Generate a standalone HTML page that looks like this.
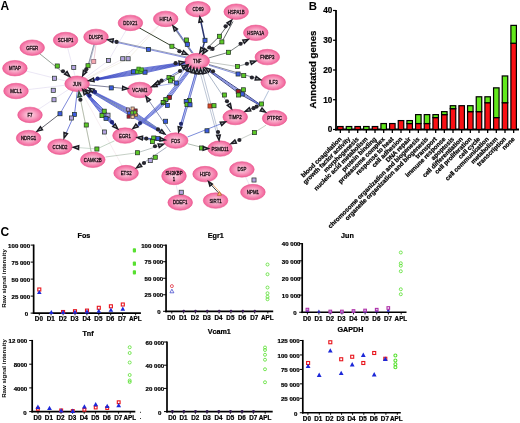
<!DOCTYPE html><html><head><meta charset="utf-8"><title>Figure</title>
<style>html,body{margin:0;padding:0;background:#fff;overflow:hidden}svg{display:block}#bar text,#sc text{stroke:#000;stroke-width:0.22px}</style></head><body>
<svg width="520" height="423" viewBox="0 0 520 423">
<defs><radialGradient id="ng" cx="50%" cy="50%" r="55%"><stop offset="0" stop-color="#fcd8e6"/><stop offset="0.35" stop-color="#f9b0cc"/><stop offset="0.75" stop-color="#f478a8"/><stop offset="1" stop-color="#ee5290"/></radialGradient><filter id="sb" x="0" y="0" width="300" height="215" filterUnits="userSpaceOnUse"><feGaussianBlur stdDeviation="0.38"/></filter></defs>
<rect width="520" height="423" fill="#fff"/>
<g id="net" filter="url(#sb)">
<line x1="65.60" y1="40.00" x2="77.10" y2="83.80" stroke="#ddd6ee" stroke-width="0.6"/>
<line x1="14.90" y1="68.20" x2="77.10" y2="83.80" stroke="#ddd6ee" stroke-width="0.6"/>
<line x1="16.00" y1="91.00" x2="77.10" y2="83.80" stroke="#ddd6ee" stroke-width="0.6"/>
<line x1="30.00" y1="114.90" x2="77.10" y2="83.80" stroke="#ddd6ee" stroke-width="0.6"/>
<polyline points="77.10,83.80 108.50,60.50 130.40,22.90" fill="none" stroke="#ddd6ee" stroke-width="0.6"/>
<polyline points="77.10,83.80 122.75,58.75 165.70,18.90" fill="none" stroke="#eadfe8" stroke-width="0.6"/>
<polyline points="77.10,83.80 128.10,58.75 165.70,18.90" fill="none" stroke="#ece8d8" stroke-width="0.6"/>
<line x1="77.10" y1="83.80" x2="126.10" y2="173.10" stroke="#f2e2e8" stroke-width="0.6"/>
<line x1="77.10" y1="83.80" x2="92.80" y2="159.80" stroke="#e8e0c8" stroke-width="0.5"/>
<line x1="174.00" y1="176.00" x2="180.20" y2="202.50" stroke="#ddd6ee" stroke-width="0.6"/>
<line x1="241.90" y1="169.40" x2="252.90" y2="192.10" stroke="#ddd6ee" stroke-width="0.6"/>
<line x1="32.20" y1="47.70" x2="77.10" y2="83.80" stroke="#68786a" stroke-width="0.7"/>
<polyline points="96.60,40.00 93.75,61.50 84.60,74.00" fill="none" stroke="#dcaaba" stroke-width="0.6"/>
<polyline points="95.20,40.00 88.00,65.75 84.00,74.00" fill="none" stroke="#5c6680" stroke-width="0.7"/>
<polyline points="96.00,40.00 89.60,63.00 84.40,74.00" fill="none" stroke="#8890b0" stroke-width="0.6"/>
<line x1="77.10" y1="83.80" x2="60.00" y2="113.75" stroke="#4858c8" stroke-width="0.7"/>
<line x1="60.00" y1="113.75" x2="28.60" y2="138.10" stroke="#40404c" stroke-width="0.8"/>
<polyline points="77.40,90.00 74.50,114.40 65.00,135.60" fill="none" stroke="#5060d0" stroke-width="0.8"/>
<line x1="92.80" y1="159.80" x2="80.00" y2="97.00" stroke="#9aa89a" stroke-width="0.7"/>
<line x1="77.10" y1="83.80" x2="139.80" y2="90.00" stroke="#4a4a70" stroke-width="0.7"/>
<polygon points="90.05,80.89 138.60,74.84 186.16,63.68 185.84,61.92 137.40,68.36 89.95,80.31" fill="#aab4f0" fill-opacity="0.45"/>
<polyline points="89.95,80.31 137.51,68.95 185.84,61.92" fill="none" stroke="#3040c0" stroke-width="0.65"/>
<polyline points="89.97,80.42 137.70,70.01 185.90,62.27" fill="none" stroke="#3040c0" stroke-width="0.65"/>
<polyline points="89.99,80.54 137.90,71.07 185.97,62.62" fill="none" stroke="#3040c0" stroke-width="0.65"/>
<polyline points="90.01,80.66 138.10,72.13 186.03,62.98" fill="none" stroke="#3040c0" stroke-width="0.65"/>
<polyline points="90.03,80.78 138.30,73.19 186.10,63.33" fill="none" stroke="#3040c0" stroke-width="0.65"/>
<polyline points="90.05,80.89 138.49,74.25 186.16,63.68" fill="none" stroke="#3040c0" stroke-width="0.65"/>
<polygon points="88.60,90.69 129.34,115.85 163.60,134.19 164.40,132.81 132.66,110.15 89.40,89.31" fill="#aab4f0" fill-opacity="0.45"/>
<polyline points="89.40,89.31 132.35,110.66 164.40,132.81" fill="none" stroke="#3444c4" stroke-width="0.65"/>
<polyline points="89.24,89.58 131.81,111.60 164.24,133.08" fill="none" stroke="#3444c4" stroke-width="0.65"/>
<polyline points="89.08,89.86 131.27,112.53 164.08,133.36" fill="none" stroke="#3444c4" stroke-width="0.65"/>
<polyline points="88.92,90.14 130.73,113.47 163.92,133.64" fill="none" stroke="#3444c4" stroke-width="0.65"/>
<polyline points="88.76,90.42 130.19,114.40 163.76,133.92" fill="none" stroke="#3444c4" stroke-width="0.65"/>
<polyline points="88.60,90.69 129.65,115.34 163.60,134.19" fill="none" stroke="#3444c4" stroke-width="0.65"/>
<line x1="90.00" y1="91.00" x2="163.00" y2="131.00" stroke="#88a0a0" stroke-width="0.7"/>
<polygon points="84.40,92.53 102.14,115.97 115.77,127.70 116.23,127.30 106.66,112.03 85.60,91.47" fill="#aab4f0" fill-opacity="0.55"/>
<polyline points="85.60,91.47 106.21,112.42 116.23,127.30" fill="none" stroke="#3444c8" stroke-width="0.75"/>
<polyline points="85.30,91.74 105.30,113.21 116.11,127.40" fill="none" stroke="#3444c8" stroke-width="0.75"/>
<polyline points="85.00,92.00 104.40,114.00 116.00,127.50" fill="none" stroke="#3444c8" stroke-width="0.75"/>
<polyline points="84.70,92.26 103.50,114.79 115.89,127.60" fill="none" stroke="#3444c8" stroke-width="0.75"/>
<polyline points="84.40,92.53 102.59,115.58 115.77,127.70" fill="none" stroke="#3444c8" stroke-width="0.75"/>
<line x1="110.00" y1="40.00" x2="187.00" y2="57.00" stroke="#8088a0" stroke-width="0.8"/>
<line x1="110.00" y1="40.90" x2="187.00" y2="58.00" stroke="#5060d0" stroke-width="0.7"/>
<line x1="130.40" y1="22.90" x2="186.00" y2="54.00" stroke="#36422e" stroke-width="1.0"/>
<line x1="174.00" y1="27.40" x2="192.00" y2="53.00" stroke="#7c8498" stroke-width="1.3"/>
<line x1="175.20" y1="27.60" x2="193.20" y2="53.20" stroke="#4858c8" stroke-width="0.8"/>
<polyline points="199.90,17.00 204.90,40.30 202.00,51.00" fill="none" stroke="#2c3670" stroke-width="1.5"/>
<polyline points="231.00,20.50 219.40,36.30 206.50,49.00" fill="none" stroke="#3a4242" stroke-width="0.8"/>
<polyline points="233.00,21.50 221.90,41.90 210.00,50.50" fill="none" stroke="#3a4242" stroke-width="0.8"/>
<polyline points="208.50,58.00 228.50,52.30 247.00,39.80" fill="none" stroke="#5a6262" stroke-width="0.8"/>
<line x1="209.50" y1="62.30" x2="237.50" y2="66.50" stroke="#98a098" stroke-width="0.6"/>
<line x1="237.50" y1="66.50" x2="254.00" y2="61.60" stroke="#606868" stroke-width="0.7"/>
<line x1="209.00" y1="64.50" x2="259.50" y2="79.20" stroke="#50586a" stroke-width="0.7"/>
<line x1="209.00" y1="65.30" x2="238.00" y2="74.40" stroke="#5868d0" stroke-width="0.7"/>
<polygon points="206.11,69.08 239.36,94.42 260.78,105.83 261.22,105.17 241.84,90.78 206.89,67.92" fill="#dde2f8" fill-opacity="0.5"/>
<polyline points="206.89,67.92 241.50,91.28 261.22,105.17" fill="none" stroke="#1c2468" stroke-width="0.8"/>
<polyline points="206.11,69.08 239.70,93.92 260.78,105.83" fill="none" stroke="#1c2468" stroke-width="0.8"/>
<polyline points="206.61,68.33 240.88,92.19 261.06,105.42" fill="none" stroke="#4454d0" stroke-width="0.6"/>
<polyline points="206.39,68.67 240.32,93.01 260.94,105.58" fill="none" stroke="#4454d0" stroke-width="0.6"/>
<line x1="268.75" y1="90.60" x2="262.00" y2="103.75" stroke="#90a8c8" stroke-width="0.7"/>
<line x1="247.00" y1="110.60" x2="262.00" y2="104.50" stroke="#404858" stroke-width="0.8"/>
<line x1="206.50" y1="71.50" x2="230.50" y2="107.30" stroke="#8898b0" stroke-width="0.7"/>
<line x1="199.30" y1="69.50" x2="217.60" y2="137.00" stroke="#90a0b8" stroke-width="0.6"/>
<line x1="201.80" y1="69.50" x2="219.40" y2="137.00" stroke="#90a0b8" stroke-width="0.6"/>
<line x1="197.40" y1="69.00" x2="179.70" y2="130.60" stroke="#c4ccf4" stroke-width="2.2"/>
<line x1="196.60" y1="69.00" x2="178.90" y2="130.50" stroke="#5464d0" stroke-width="0.9"/>
<line x1="198.30" y1="69.00" x2="180.50" y2="130.80" stroke="#6c78c8" stroke-width="0.9"/>
<polygon points="189.44,67.42 163.23,99.98 135.84,126.39 137.16,127.61 166.77,103.22 191.36,69.18" fill="#c4ccf4" fill-opacity="0.6"/>
<polyline points="191.36,69.18 166.33,102.82 137.16,127.61" fill="none" stroke="#5060d0" stroke-width="0.8"/>
<polyline points="190.72,68.59 165.44,102.01 136.72,127.20" fill="none" stroke="#5060d0" stroke-width="0.8"/>
<polyline points="190.08,68.01 164.56,101.19 136.28,126.80" fill="none" stroke="#5060d0" stroke-width="0.8"/>
<polyline points="189.44,67.42 163.67,100.38 135.84,126.39" fill="none" stroke="#5060d0" stroke-width="0.8"/>
<line x1="186.00" y1="67.00" x2="153.50" y2="86.00" stroke="#5060c8" stroke-width="0.8"/>
<line x1="187.00" y1="68.20" x2="154.00" y2="87.00" stroke="#50586a" stroke-width="0.7"/>
<line x1="186.00" y1="66.00" x2="176.25" y2="83.00" stroke="#7080d8" stroke-width="0.6"/>
<line x1="176.25" y1="83.00" x2="154.00" y2="86.50" stroke="#7080d8" stroke-width="0.6"/>
<line x1="170.50" y1="132.00" x2="146.80" y2="97.60" stroke="#5a6490" stroke-width="0.7"/>
<line x1="187.50" y1="137.00" x2="224.00" y2="122.60" stroke="#5a70d0" stroke-width="0.8"/>
<line x1="187.50" y1="143.70" x2="207.00" y2="148.70" stroke="#90a090" stroke-width="0.7"/>
<line x1="266.00" y1="125.20" x2="254.40" y2="132.50" stroke="#a0b8a0" stroke-width="0.6"/>
<line x1="254.40" y1="132.50" x2="232.80" y2="142.80" stroke="#a8b0a8" stroke-width="0.6"/>
<line x1="166.50" y1="147.30" x2="137.50" y2="167.00" stroke="#8088a0" stroke-width="0.7"/>
<line x1="105.50" y1="157.00" x2="137.50" y2="152.75" stroke="#a0b0a0" stroke-width="0.6"/>
<line x1="137.50" y1="152.75" x2="162.00" y2="144.80" stroke="#90a0a0" stroke-width="0.6"/>
<line x1="138.00" y1="137.60" x2="163.00" y2="139.40" stroke="#4050c0" stroke-width="1.0"/>
<line x1="138.00" y1="138.60" x2="163.00" y2="141.00" stroke="#5a6a8a" stroke-width="0.8"/>
<line x1="114.50" y1="140.80" x2="96.90" y2="149.00" stroke="#9cb8a0" stroke-width="0.6"/>
<line x1="96.90" y1="149.00" x2="73.50" y2="147.20" stroke="#a8c0b0" stroke-width="0.6"/>
<line x1="209.30" y1="182.80" x2="219.60" y2="194.00" stroke="#2a2a2a" stroke-width="0.9"/>
<line x1="210.80" y1="182.40" x2="221.00" y2="193.40" stroke="#e89040" stroke-width="0.7"/>
<ellipse cx="32.2" cy="47.7" rx="12.3" ry="7.75" fill="url(#ng)" stroke="#ea5a8e" stroke-width="0.6"/>
<text transform="translate(32.2,49.6) scale(0.84,1)" text-anchor="middle" font-size="5.2" font-family="Liberation Sans, Arial, sans-serif" fill="#1c0c14" stroke="#1c0c14" stroke-width="0.3">GFER</text>
<ellipse cx="65.6" cy="40" rx="12.3" ry="7.75" fill="url(#ng)" stroke="#ea5a8e" stroke-width="0.6"/>
<text transform="translate(65.6,41.9) scale(0.84,1)" text-anchor="middle" font-size="5.2" font-family="Liberation Sans, Arial, sans-serif" fill="#1c0c14" stroke="#1c0c14" stroke-width="0.3">SCHIP1</text>
<ellipse cx="96" cy="36.9" rx="12.3" ry="7.75" fill="url(#ng)" stroke="#ea5a8e" stroke-width="0.6"/>
<text transform="translate(96,38.8) scale(0.84,1)" text-anchor="middle" font-size="5.2" font-family="Liberation Sans, Arial, sans-serif" fill="#1c0c14" stroke="#1c0c14" stroke-width="0.3">DUSP1</text>
<ellipse cx="130.4" cy="22.9" rx="12.3" ry="7.75" fill="url(#ng)" stroke="#ea5a8e" stroke-width="0.6"/>
<text transform="translate(130.4,24.799999999999997) scale(0.84,1)" text-anchor="middle" font-size="5.2" font-family="Liberation Sans, Arial, sans-serif" fill="#1c0c14" stroke="#1c0c14" stroke-width="0.3">DDX21</text>
<ellipse cx="165.7" cy="18.9" rx="12.3" ry="7.75" fill="url(#ng)" stroke="#ea5a8e" stroke-width="0.6"/>
<text transform="translate(165.7,20.799999999999997) scale(0.84,1)" text-anchor="middle" font-size="5.2" font-family="Liberation Sans, Arial, sans-serif" fill="#1c0c14" stroke="#1c0c14" stroke-width="0.3">HIF1A</text>
<ellipse cx="198" cy="9.2" rx="12.3" ry="7.75" fill="url(#ng)" stroke="#ea5a8e" stroke-width="0.6"/>
<text transform="translate(198,11.1) scale(0.84,1)" text-anchor="middle" font-size="5.2" font-family="Liberation Sans, Arial, sans-serif" fill="#1c0c14" stroke="#1c0c14" stroke-width="0.3">CD69</text>
<ellipse cx="236.2" cy="11.7" rx="12.3" ry="7.75" fill="url(#ng)" stroke="#ea5a8e" stroke-width="0.6"/>
<text transform="translate(236.2,13.6) scale(0.84,1)" text-anchor="middle" font-size="5.2" font-family="Liberation Sans, Arial, sans-serif" fill="#1c0c14" stroke="#1c0c14" stroke-width="0.3">HSPA1B</text>
<ellipse cx="255.8" cy="32.8" rx="12.3" ry="7.75" fill="url(#ng)" stroke="#ea5a8e" stroke-width="0.6"/>
<text transform="translate(255.8,34.699999999999996) scale(0.84,1)" text-anchor="middle" font-size="5.2" font-family="Liberation Sans, Arial, sans-serif" fill="#1c0c14" stroke="#1c0c14" stroke-width="0.3">HSPA1A</text>
<ellipse cx="267.3" cy="57.1" rx="12.3" ry="7.75" fill="url(#ng)" stroke="#ea5a8e" stroke-width="0.6"/>
<text transform="translate(267.3,59.0) scale(0.84,1)" text-anchor="middle" font-size="5.2" font-family="Liberation Sans, Arial, sans-serif" fill="#1c0c14" stroke="#1c0c14" stroke-width="0.3">FNBP3</text>
<ellipse cx="273.2" cy="82.3" rx="12.3" ry="7.75" fill="url(#ng)" stroke="#ea5a8e" stroke-width="0.6"/>
<text transform="translate(273.2,84.2) scale(0.84,1)" text-anchor="middle" font-size="5.2" font-family="Liberation Sans, Arial, sans-serif" fill="#1c0c14" stroke="#1c0c14" stroke-width="0.3">ILF3</text>
<ellipse cx="274.6" cy="118.2" rx="12.3" ry="7.75" fill="url(#ng)" stroke="#ea5a8e" stroke-width="0.6"/>
<text transform="translate(274.6,120.10000000000001) scale(0.84,1)" text-anchor="middle" font-size="5.2" font-family="Liberation Sans, Arial, sans-serif" fill="#1c0c14" stroke="#1c0c14" stroke-width="0.3">PTPRC</text>
<ellipse cx="235.2" cy="117" rx="12.3" ry="7.75" fill="url(#ng)" stroke="#ea5a8e" stroke-width="0.6"/>
<text transform="translate(235.2,118.9) scale(0.84,1)" text-anchor="middle" font-size="5.2" font-family="Liberation Sans, Arial, sans-serif" fill="#1c0c14" stroke="#1c0c14" stroke-width="0.3">TIMP2</text>
<ellipse cx="220" cy="148.6" rx="12.3" ry="7.75" fill="url(#ng)" stroke="#ea5a8e" stroke-width="0.6"/>
<text transform="translate(220,150.5) scale(0.84,1)" text-anchor="middle" font-size="5.2" font-family="Liberation Sans, Arial, sans-serif" fill="#1c0c14" stroke="#1c0c14" stroke-width="0.3">PSMD11</text>
<ellipse cx="175.7" cy="140.6" rx="12.3" ry="7.75" fill="url(#ng)" stroke="#ea5a8e" stroke-width="0.6"/>
<text transform="translate(175.7,142.5) scale(0.84,1)" text-anchor="middle" font-size="5.2" font-family="Liberation Sans, Arial, sans-serif" fill="#1c0c14" stroke="#1c0c14" stroke-width="0.3">FOS</text>
<ellipse cx="125" cy="135.6" rx="12.3" ry="7.75" fill="url(#ng)" stroke="#ea5a8e" stroke-width="0.6"/>
<text transform="translate(125,137.5) scale(0.84,1)" text-anchor="middle" font-size="5.2" font-family="Liberation Sans, Arial, sans-serif" fill="#1c0c14" stroke="#1c0c14" stroke-width="0.3">EGR1</text>
<ellipse cx="139.8" cy="90" rx="12.3" ry="7.75" fill="url(#ng)" stroke="#ea5a8e" stroke-width="0.6"/>
<text transform="translate(139.8,91.9) scale(0.84,1)" text-anchor="middle" font-size="5.2" font-family="Liberation Sans, Arial, sans-serif" fill="#1c0c14" stroke="#1c0c14" stroke-width="0.3">VCAM1</text>
<ellipse cx="197.2" cy="61.1" rx="12.3" ry="7.75" fill="url(#ng)" stroke="#ea5a8e" stroke-width="0.6"/>
<text transform="translate(197.2,63.0) scale(0.84,1)" text-anchor="middle" font-size="5.2" font-family="Liberation Sans, Arial, sans-serif" fill="#1c0c14" stroke="#1c0c14" stroke-width="0.3">TNF</text>
<ellipse cx="77.1" cy="83.8" rx="12.3" ry="7.75" fill="url(#ng)" stroke="#ea5a8e" stroke-width="0.6"/>
<text transform="translate(77.1,85.7) scale(0.84,1)" text-anchor="middle" font-size="5.2" font-family="Liberation Sans, Arial, sans-serif" fill="#1c0c14" stroke="#1c0c14" stroke-width="0.3">JUN</text>
<ellipse cx="14.9" cy="68.2" rx="12.3" ry="7.75" fill="url(#ng)" stroke="#ea5a8e" stroke-width="0.6"/>
<text transform="translate(14.9,70.10000000000001) scale(0.84,1)" text-anchor="middle" font-size="5.2" font-family="Liberation Sans, Arial, sans-serif" fill="#1c0c14" stroke="#1c0c14" stroke-width="0.3">MTAP</text>
<ellipse cx="16" cy="91" rx="12.3" ry="7.75" fill="url(#ng)" stroke="#ea5a8e" stroke-width="0.6"/>
<text transform="translate(16,92.9) scale(0.84,1)" text-anchor="middle" font-size="5.2" font-family="Liberation Sans, Arial, sans-serif" fill="#1c0c14" stroke="#1c0c14" stroke-width="0.3">MCL1</text>
<ellipse cx="30" cy="114.9" rx="12.3" ry="7.75" fill="url(#ng)" stroke="#ea5a8e" stroke-width="0.6"/>
<text transform="translate(30,116.80000000000001) scale(0.84,1)" text-anchor="middle" font-size="5.2" font-family="Liberation Sans, Arial, sans-serif" fill="#1c0c14" stroke="#1c0c14" stroke-width="0.3">F7</text>
<ellipse cx="28.6" cy="138.1" rx="12.3" ry="7.75" fill="url(#ng)" stroke="#ea5a8e" stroke-width="0.6"/>
<text transform="translate(28.6,140.0) scale(0.84,1)" text-anchor="middle" font-size="5.2" font-family="Liberation Sans, Arial, sans-serif" fill="#1c0c14" stroke="#1c0c14" stroke-width="0.3">NDRG1</text>
<ellipse cx="60" cy="146.75" rx="12.3" ry="7.75" fill="url(#ng)" stroke="#ea5a8e" stroke-width="0.6"/>
<text transform="translate(60,148.65) scale(0.84,1)" text-anchor="middle" font-size="5.2" font-family="Liberation Sans, Arial, sans-serif" fill="#1c0c14" stroke="#1c0c14" stroke-width="0.3">CCND2</text>
<ellipse cx="92.8" cy="159.8" rx="12.3" ry="7.75" fill="url(#ng)" stroke="#ea5a8e" stroke-width="0.6"/>
<text transform="translate(92.8,161.70000000000002) scale(0.84,1)" text-anchor="middle" font-size="5.2" font-family="Liberation Sans, Arial, sans-serif" fill="#1c0c14" stroke="#1c0c14" stroke-width="0.3">CAMK2B</text>
<ellipse cx="126.1" cy="173.1" rx="12.3" ry="7.75" fill="url(#ng)" stroke="#ea5a8e" stroke-width="0.6"/>
<text transform="translate(126.1,175.0) scale(0.84,1)" text-anchor="middle" font-size="5.2" font-family="Liberation Sans, Arial, sans-serif" fill="#1c0c14" stroke="#1c0c14" stroke-width="0.3">ETS2</text>
<ellipse cx="174" cy="176" rx="12.3" ry="8.7" fill="url(#ng)" stroke="#ea5a8e" stroke-width="0.6"/>
<text transform="translate(174,175.2) scale(0.84,1)" text-anchor="middle" font-size="5.2" font-family="Liberation Sans, Arial, sans-serif" fill="#1c0c14" stroke="#1c0c14" stroke-width="0.3">SH3KBP</text>
<text transform="translate(174,180.6) scale(0.84,1)" text-anchor="middle" font-size="5.2" font-family="Liberation Sans, Arial, sans-serif" fill="#1c0c14" stroke="#1c0c14" stroke-width="0.3">1</text>
<ellipse cx="205.1" cy="174.1" rx="12.3" ry="7.75" fill="url(#ng)" stroke="#ea5a8e" stroke-width="0.6"/>
<text transform="translate(205.1,176.0) scale(0.84,1)" text-anchor="middle" font-size="5.2" font-family="Liberation Sans, Arial, sans-serif" fill="#1c0c14" stroke="#1c0c14" stroke-width="0.3">H1F0</text>
<ellipse cx="241.9" cy="169.4" rx="12.3" ry="7.75" fill="url(#ng)" stroke="#ea5a8e" stroke-width="0.6"/>
<text transform="translate(241.9,171.3) scale(0.84,1)" text-anchor="middle" font-size="5.2" font-family="Liberation Sans, Arial, sans-serif" fill="#1c0c14" stroke="#1c0c14" stroke-width="0.3">DSP</text>
<ellipse cx="252.9" cy="192.1" rx="12.3" ry="7.75" fill="url(#ng)" stroke="#ea5a8e" stroke-width="0.6"/>
<text transform="translate(252.9,194.0) scale(0.84,1)" text-anchor="middle" font-size="5.2" font-family="Liberation Sans, Arial, sans-serif" fill="#1c0c14" stroke="#1c0c14" stroke-width="0.3">NPM1</text>
<ellipse cx="180.2" cy="202.5" rx="12.3" ry="7.75" fill="url(#ng)" stroke="#ea5a8e" stroke-width="0.6"/>
<text transform="translate(180.2,204.4) scale(0.84,1)" text-anchor="middle" font-size="5.2" font-family="Liberation Sans, Arial, sans-serif" fill="#1c0c14" stroke="#1c0c14" stroke-width="0.3">DDEF1</text>
<ellipse cx="215.6" cy="200.6" rx="12.3" ry="7.75" fill="url(#ng)" stroke="#ea5a8e" stroke-width="0.6"/>
<text transform="translate(215.6,202.5) scale(0.84,1)" text-anchor="middle" font-size="5.2" font-family="Liberation Sans, Arial, sans-serif" fill="#1c0c14" stroke="#1c0c14" stroke-width="0.3">SIRT1</text>
<rect x="71.70" y="65.45" width="4.1" height="4.1" fill="#b4a4e0" stroke="#223022" stroke-width="0.7"/>
<rect x="52.45" y="76.20" width="4.1" height="4.1" fill="#b4a4e0" stroke="#223022" stroke-width="0.7"/>
<rect x="51.20" y="88.25" width="4.1" height="4.1" fill="#b4a4e0" stroke="#223022" stroke-width="0.7"/>
<rect x="51.95" y="97.70" width="4.1" height="4.1" fill="#b4a4e0" stroke="#223022" stroke-width="0.7"/>
<rect x="106.45" y="58.45" width="4.1" height="4.1" fill="#b4a4e0" stroke="#223022" stroke-width="0.7"/>
<rect x="120.70" y="56.70" width="4.1" height="4.1" fill="#b4a4e0" stroke="#223022" stroke-width="0.7"/>
<rect x="126.05" y="56.70" width="4.1" height="4.1" fill="#b4a4e0" stroke="#223022" stroke-width="0.7"/>
<rect x="102.35" y="129.95" width="4.1" height="4.1" fill="#b4a4e0" stroke="#223022" stroke-width="0.7"/>
<rect x="179.20" y="190.20" width="4.1" height="4.1" fill="#b4a4e0" stroke="#223022" stroke-width="0.7"/>
<rect x="251.95" y="177.95" width="4.1" height="4.1" fill="#b4a4e0" stroke="#223022" stroke-width="0.7"/>
<rect x="55.20" y="63.95" width="4.1" height="4.1" fill="#5cc828" stroke="#223022" stroke-width="0.7"/>
<circle cx="63.00" cy="71.25" r="2.1" fill="#26262e"/>
<polygon points="69.65,76.35 64.60,74.27 67.09,71.53" fill="#a4acb0" stroke="#1a1a22" stroke-width="1.4" stroke-linejoin="miter"/>
<rect x="91.70" y="59.45" width="4.1" height="4.1" fill="#f4a8b0" stroke="#806070" stroke-width="0.7"/>
<rect x="85.95" y="63.70" width="4.1" height="4.1" fill="#5cc828" stroke="#223022" stroke-width="0.7"/>
<circle cx="86.25" cy="69.30" r="2.1" fill="#26262e"/>
<polygon points="82.67,75.78 83.38,70.37 86.67,72.06" fill="#a4acb0" stroke="#1a1a22" stroke-width="1.4" stroke-linejoin="miter"/>
<rect x="57.95" y="111.70" width="4.1" height="4.1" fill="#3c5ce0" stroke="#223022" stroke-width="0.7"/>
<polygon points="37.19,131.21 40.43,126.82 42.48,129.90" fill="#a4acb0" stroke="#1a1a22" stroke-width="1.4" stroke-linejoin="miter"/>
<rect x="72.35" y="112.35" width="4.1" height="4.1" fill="#3c5ce0" stroke="#223022" stroke-width="0.7"/>
<rect x="69.45" y="115.95" width="4.1" height="4.1" fill="#b4a4e0" stroke="#223022" stroke-width="0.7"/>
<polygon points="64.05,137.94 63.98,132.49 67.48,133.69" fill="#a4acb0" stroke="#1a1a22" stroke-width="1.4" stroke-linejoin="miter"/>
<rect x="84.20" y="122.95" width="4.1" height="4.1" fill="#5cc828" stroke="#223022" stroke-width="0.7"/>
<circle cx="80.40" cy="99.75" r="2.1" fill="#26262e"/>
<polygon points="79.01,91.73 81.53,96.56 77.87,97.06" fill="#7ab89a" stroke="#2a4a3a" stroke-width="1.4" stroke-linejoin="miter"/>
<rect x="109.20" y="85.85" width="4.1" height="4.1" fill="#3c5ce0" stroke="#223022" stroke-width="0.7"/>
<polygon points="127.69,88.59 122.45,90.10 122.69,86.41" fill="#a4acb0" stroke="#1a1a22" stroke-width="1.4" stroke-linejoin="miter"/>
<rect x="131.45" y="69.75" width="4.1" height="4.1" fill="#3c5ce0" stroke="#223022" stroke-width="0.7"/>
<rect x="142.95" y="70.15" width="4.1" height="4.1" fill="#3c5ce0" stroke="#223022" stroke-width="0.7"/>
<rect x="135.50" y="69.90" width="3.4" height="3.4" fill="#5cc828" stroke="#2a6a1a" stroke-width="0.7"/>
<rect x="138.90" y="70.10" width="3.4" height="3.4" fill="#5cc828" stroke="#2a6a1a" stroke-width="0.7"/>
<rect x="136.90" y="67.10" width="3.4" height="3.4" fill="#5cc828" stroke="#2a6a1a" stroke-width="0.7"/>
<rect x="139.90" y="67.90" width="3.4" height="3.4" fill="#5cc828" stroke="#2a6a1a" stroke-width="0.7"/>
<circle cx="97.60" cy="78.60" r="2.1" fill="#20287a"/>
<polygon points="88.75,80.71 93.47,77.99 94.12,81.63" fill="#a4acb0" stroke="#1a1a22" stroke-width="1.4" stroke-linejoin="miter"/>
<circle cx="175.60" cy="63.20" r="2.1" fill="#26262e"/>
<polygon points="184.25,62.09 179.53,64.81 178.88,61.17" fill="#a4acb0" stroke="#1a1a22" stroke-width="1.4" stroke-linejoin="miter"/>
<polygon points="187.15,65.01 183.52,69.09 181.75,65.85" fill="#a4acb0" stroke="#1a1a22" stroke-width="1.4" stroke-linejoin="miter"/>
<rect x="126.40" y="107.90" width="3.2" height="3.2" fill="#b4a4e0" stroke="#4a3a3a" stroke-width="0.7"/>
<rect x="131.00" y="107.00" width="3.2" height="3.2" fill="#f4c8a0" stroke="#4a3a3a" stroke-width="0.7"/>
<rect x="134.00" y="108.90" width="3.2" height="3.2" fill="#a01828" stroke="#4a3a3a" stroke-width="0.7"/>
<rect x="127.40" y="111.40" width="3.2" height="3.2" fill="#3c5ce0" stroke="#4a3a3a" stroke-width="0.7"/>
<rect x="130.80" y="111.00" width="3.2" height="3.2" fill="#5cc828" stroke="#4a3a3a" stroke-width="0.7"/>
<rect x="134.40" y="113.00" width="3.2" height="3.2" fill="#f0a050" stroke="#4a3a3a" stroke-width="0.7"/>
<rect x="127.00" y="115.00" width="3.2" height="3.2" fill="#a01828" stroke="#4a3a3a" stroke-width="0.7"/>
<rect x="131.00" y="115.20" width="3.2" height="3.2" fill="#f4c8a0" stroke="#4a3a3a" stroke-width="0.7"/>
<rect x="133.40" y="110.80" width="3.2" height="3.2" fill="#5cc828" stroke="#4a3a3a" stroke-width="0.7"/>
<polygon points="88.90,88.12 94.26,89.14 92.38,92.33" fill="#a4acb0" stroke="#1a1a22" stroke-width="1.4" stroke-linejoin="miter"/>
<polygon points="85.31,89.62 90.50,91.31 88.23,94.23" fill="#a4acb0" stroke="#1a1a22" stroke-width="1.4" stroke-linejoin="miter"/>
<polygon points="82.73,89.63 87.20,92.76 84.18,94.89" fill="#a4acb0" stroke="#1a1a22" stroke-width="1.4" stroke-linejoin="miter"/>
<circle cx="95.00" cy="91.90" r="2.1" fill="#20287a"/>
<circle cx="89.60" cy="95.60" r="2.1" fill="#20287a"/>
<circle cx="158.00" cy="129.40" r="2.1" fill="#26262e"/>
<polygon points="165.00,134.03 159.71,132.67 161.80,129.61" fill="#a4acb0" stroke="#1a1a22" stroke-width="1.4" stroke-linejoin="miter"/>
<rect x="102.15" y="109.15" width="4.1" height="4.1" fill="#5cc828" stroke="#223022" stroke-width="0.7"/>
<rect x="99.95" y="113.55" width="4.1" height="4.1" fill="#5cc828" stroke="#223022" stroke-width="0.7"/>
<rect x="105.95" y="113.15" width="4.1" height="4.1" fill="#b4a4e0" stroke="#223022" stroke-width="0.7"/>
<rect x="103.95" y="116.35" width="4.1" height="4.1" fill="#3c5ce0" stroke="#223022" stroke-width="0.7"/>
<circle cx="112.00" cy="122.20" r="2.1" fill="#20287a"/>
<polygon points="117.71,128.79 112.71,126.62 115.24,123.92" fill="#a4acb0" stroke="#1a1a22" stroke-width="1.4" stroke-linejoin="miter"/>
<rect x="146.45" y="47.35" width="4.1" height="4.1" fill="#3c5ce0" stroke="#223022" stroke-width="0.7"/>
<circle cx="116.60" cy="41.90" r="2.1" fill="#26262e"/>
<polygon points="107.95,39.77 113.34,38.89 112.65,42.53" fill="#a4acb0" stroke="#1a1a22" stroke-width="1.4" stroke-linejoin="miter"/>
<rect x="169.85" y="44.20" width="4.1" height="4.1" fill="#5cc828" stroke="#223022" stroke-width="0.7"/>
<circle cx="179.40" cy="51.25" r="2.1" fill="#26262e"/>
<polygon points="187.45,54.47 182.01,54.09 183.51,50.71" fill="#a4acb0" stroke="#1a1a22" stroke-width="1.4" stroke-linejoin="miter"/>
<rect x="184.45" y="37.95" width="4.1" height="4.1" fill="#5cc828" stroke="#223022" stroke-width="0.7"/>
<rect x="185.25" y="42.35" width="4.1" height="4.1" fill="#3c5ce0" stroke="#223022" stroke-width="0.7"/>
<polygon points="172.93,25.93 177.40,29.06 174.37,31.19" fill="#a4acb0" stroke="#1a1a22" stroke-width="1.4" stroke-linejoin="miter"/>
<rect x="202.95" y="38.25" width="4.1" height="4.1" fill="#3c5ce0" stroke="#223022" stroke-width="0.7"/>
<polygon points="199.82,16.94 202.49,21.70 198.84,22.31" fill="#a4acb0" stroke="#1a1a22" stroke-width="1.4" stroke-linejoin="miter"/>
<polygon points="231.70,20.11 229.74,25.20 226.94,22.78" fill="#a4acb0" stroke="#1a1a22" stroke-width="1.4" stroke-linejoin="miter"/>
<circle cx="225.60" cy="26.30" r="2.1" fill="#26262e"/>
<rect x="217.35" y="34.25" width="4.1" height="4.1" fill="#5cc828" stroke="#223022" stroke-width="0.7"/>
<rect x="219.85" y="39.85" width="4.1" height="4.1" fill="#5cc828" stroke="#223022" stroke-width="0.7"/>
<circle cx="209.40" cy="47.50" r="2.1" fill="#26262e"/>
<circle cx="212.50" cy="48.90" r="2.1" fill="#26262e"/>
<polygon points="199.80,52.68 200.87,47.33 204.04,49.25" fill="#a4acb0" stroke="#1a1a22" stroke-width="1.4" stroke-linejoin="miter"/>
<polygon points="202.90,53.75 204.41,48.51 207.41,50.67" fill="#a4acb0" stroke="#1a1a22" stroke-width="1.4" stroke-linejoin="miter"/>
<rect x="226.45" y="50.25" width="4.1" height="4.1" fill="#5cc828" stroke="#223022" stroke-width="0.7"/>
<circle cx="240.60" cy="43.75" r="2.1" fill="#26262e"/>
<polygon points="248.22,39.45 244.38,43.33 242.79,39.99" fill="#a4acb0" stroke="#1a1a22" stroke-width="1.4" stroke-linejoin="miter"/>
<rect x="235.45" y="64.45" width="4.1" height="4.1" fill="#5cc828" stroke="#223022" stroke-width="0.7"/>
<circle cx="246.90" cy="63.75" r="2.1" fill="#26262e"/>
<polygon points="255.76,61.12 251.44,64.44 250.31,60.92" fill="#a4acb0" stroke="#1a1a22" stroke-width="1.4" stroke-linejoin="miter"/>
<rect x="236.05" y="71.95" width="4.1" height="4.1" fill="#3c5ce0" stroke="#223022" stroke-width="0.7"/>
<rect x="241.70" y="73.55" width="4.1" height="4.1" fill="#5cc828" stroke="#223022" stroke-width="0.7"/>
<circle cx="251.90" cy="77.50" r="2.1" fill="#26262e"/>
<polygon points="260.59,79.70 255.14,80.06 256.17,76.50" fill="#a4acb0" stroke="#1a1a22" stroke-width="1.4" stroke-linejoin="miter"/>
<polygon points="205.20,67.88 210.49,69.21 208.42,72.28" fill="#a4acb0" stroke="#1a1a22" stroke-width="1.4" stroke-linejoin="miter"/>
<circle cx="213.00" cy="71.30" r="2.1" fill="#26262e"/>
<rect x="241.35" y="87.75" width="4.1" height="4.1" fill="#5cc828" stroke="#223022" stroke-width="0.7"/>
<rect x="236.15" y="89.35" width="4.1" height="4.1" fill="#a01828" stroke="#223022" stroke-width="0.7"/>
<rect x="240.15" y="91.95" width="4.1" height="4.1" fill="#3c5ce0" stroke="#223022" stroke-width="0.7"/>
<rect x="236.55" y="92.95" width="4.1" height="4.1" fill="#5cc828" stroke="#223022" stroke-width="0.7"/>
<rect x="259.55" y="101.95" width="4.1" height="4.1" fill="#5cc828" stroke="#223022" stroke-width="0.7"/>
<circle cx="256.60" cy="106.60" r="2.1" fill="#26262e"/>
<circle cx="253.60" cy="108.20" r="2.1" fill="#26262e"/>
<polygon points="245.35,111.37 249.30,107.61 250.79,110.99" fill="#a4acb0" stroke="#1a1a22" stroke-width="1.4" stroke-linejoin="miter"/>
<polygon points="265.49,112.09 260.13,111.04 262.04,107.86" fill="#a4acb0" stroke="#1a1a22" stroke-width="1.4" stroke-linejoin="miter"/>
<rect x="222.35" y="92.95" width="4.1" height="4.1" fill="#5cc828" stroke="#223022" stroke-width="0.7"/>
<circle cx="227.00" cy="101.25" r="2.1" fill="#26262e"/>
<polygon points="231.50,108.78 227.26,105.35 230.42,103.43" fill="#a4acb0" stroke="#1a1a22" stroke-width="1.4" stroke-linejoin="miter"/>
<rect x="207.95" y="103.95" width="4.1" height="4.1" fill="#d84828" stroke="#703020" stroke-width="0.7"/>
<rect x="211.95" y="103.65" width="4.1" height="4.1" fill="#5cc828" stroke="#223022" stroke-width="0.7"/>
<circle cx="218.00" cy="132.00" r="2.1" fill="#26262e"/>
<polygon points="219.01,140.28 216.62,135.38 220.30,134.98" fill="#a4acb0" stroke="#1a1a22" stroke-width="1.4" stroke-linejoin="miter"/>
<rect x="187.35" y="98.55" width="4.1" height="4.1" fill="#5cc828" stroke="#223022" stroke-width="0.7"/>
<rect x="184.15" y="99.35" width="4.1" height="4.1" fill="#3c5ce0" stroke="#223022" stroke-width="0.7"/>
<rect x="184.95" y="102.55" width="4.1" height="4.1" fill="#5cc828" stroke="#223022" stroke-width="0.7"/>
<rect x="187.95" y="102.75" width="4.1" height="4.1" fill="#3c5ce0" stroke="#223022" stroke-width="0.7"/>
<circle cx="181.00" cy="123.75" r="2.1" fill="#242c6a"/>
<polygon points="178.66,132.00 178.18,126.57 181.76,127.51" fill="#a4acb0" stroke="#1a1a22" stroke-width="1.4" stroke-linejoin="miter"/>
<rect x="167.35" y="95.45" width="4.1" height="4.1" fill="#a01828" stroke="#223022" stroke-width="0.7"/>
<rect x="163.75" y="97.55" width="4.1" height="4.1" fill="#5cc828" stroke="#223022" stroke-width="0.7"/>
<rect x="161.35" y="100.55" width="4.1" height="4.1" fill="#5cc828" stroke="#223022" stroke-width="0.7"/>
<rect x="165.35" y="103.35" width="4.1" height="4.1" fill="#3c5ce0" stroke="#223022" stroke-width="0.7"/>
<circle cx="140.00" cy="123.00" r="2.1" fill="#242c6a"/>
<polygon points="132.89,128.56 135.86,123.98 138.10,126.92" fill="#a4acb0" stroke="#1a1a22" stroke-width="1.4" stroke-linejoin="miter"/>
<rect x="161.10" y="100.50" width="3" height="3" fill="#5cc828" stroke="#223022" stroke-width="0.7"/>
<polygon points="197.00,68.60 198.85,73.73 195.15,73.73" fill="#a4acb0" stroke="#1a1a22" stroke-width="1.4" stroke-linejoin="miter"/>
<polygon points="200.47,68.60 202.55,73.65 198.85,73.81" fill="#a4acb0" stroke="#1a1a22" stroke-width="1.4" stroke-linejoin="miter"/>
<polygon points="193.81,67.93 194.92,73.27 191.25,72.75" fill="#a4acb0" stroke="#1a1a22" stroke-width="1.4" stroke-linejoin="miter"/>
<polygon points="190.63,66.62 190.93,72.07 187.39,71.01" fill="#a4acb0" stroke="#1a1a22" stroke-width="1.4" stroke-linejoin="miter"/>
<polygon points="188.10,65.25 186.59,70.49 183.59,68.33" fill="#a4acb0" stroke="#1a1a22" stroke-width="1.4" stroke-linejoin="miter"/>
<polygon points="203.40,68.41 206.59,72.84 203.04,73.86" fill="#a4acb0" stroke="#1a1a22" stroke-width="1.4" stroke-linejoin="miter"/>
<circle cx="180.00" cy="71.00" r="2.1" fill="#26262e"/>
<rect x="166.95" y="75.35" width="4.1" height="4.1" fill="#5cc828" stroke="#223022" stroke-width="0.7"/>
<rect x="170.15" y="76.55" width="4.1" height="4.1" fill="#5cc828" stroke="#223022" stroke-width="0.7"/>
<rect x="168.35" y="78.75" width="4.1" height="4.1" fill="#5cc828" stroke="#223022" stroke-width="0.7"/>
<rect x="174.20" y="80.95" width="4.1" height="4.1" fill="#3c5ce0" stroke="#223022" stroke-width="0.7"/>
<circle cx="158.75" cy="82.50" r="2.1" fill="#26262e"/>
<circle cx="161.60" cy="80.60" r="2.1" fill="#26262e"/>
<polygon points="151.69,86.75 155.82,83.17 157.15,86.62" fill="#a4acb0" stroke="#1a1a22" stroke-width="1.4" stroke-linejoin="miter"/>
<polygon points="154.03,84.94 157.72,80.93 159.44,84.21" fill="#a4acb0" stroke="#1a1a22" stroke-width="1.4" stroke-linejoin="miter"/>
<rect x="163.55" y="119.20" width="4.1" height="4.1" fill="#3c5ce0" stroke="#223022" stroke-width="0.7"/>
<polygon points="146.03,96.46 150.37,99.77 147.26,101.78" fill="#a4acb0" stroke="#1a1a22" stroke-width="1.4" stroke-linejoin="miter"/>
<rect x="204.95" y="128.75" width="4.1" height="4.1" fill="#3c5ce0" stroke="#223022" stroke-width="0.7"/>
<polygon points="225.64,121.81 221.72,125.60 220.20,122.23" fill="#a4acb0" stroke="#1a1a22" stroke-width="1.4" stroke-linejoin="miter"/>
<rect x="199.45" y="145.95" width="4.1" height="4.1" fill="#5cc828" stroke="#223022" stroke-width="0.7"/>
<polygon points="208.30,148.56 203.13,150.30 203.21,146.60" fill="#a4acb0" stroke="#1a1a22" stroke-width="1.4" stroke-linejoin="miter"/>
<rect x="252.35" y="130.55" width="4.1" height="4.1" fill="#5cc828" stroke="#223022" stroke-width="0.7"/>
<circle cx="239.40" cy="140.00" r="2.1" fill="#26262e"/>
<polygon points="230.96,143.70 234.86,139.89 236.40,143.25" fill="#a4acb0" stroke="#1a1a22" stroke-width="1.4" stroke-linejoin="miter"/>
<rect x="153.20" y="155.20" width="4.1" height="4.1" fill="#5cc828" stroke="#223022" stroke-width="0.7"/>
<rect x="148.20" y="158.55" width="4.1" height="4.1" fill="#b4a4e0" stroke="#223022" stroke-width="0.7"/>
<circle cx="144.00" cy="163.00" r="2.1" fill="#26262e"/>
<polygon points="136.49,167.81 139.73,163.42 141.78,166.50" fill="#a4acb0" stroke="#1a1a22" stroke-width="1.4" stroke-linejoin="miter"/>
<rect x="135.45" y="150.70" width="4.1" height="4.1" fill="#5cc828" stroke="#223022" stroke-width="0.7"/>
<circle cx="155.00" cy="146.25" r="2.1" fill="#26262e"/>
<polygon points="163.55,144.08 159.27,147.46 158.10,143.95" fill="#a4acb0" stroke="#1a1a22" stroke-width="1.4" stroke-linejoin="miter"/>
<polygon points="137.31,137.53 142.60,136.17 142.25,139.85" fill="#a4acb0" stroke="#1a1a22" stroke-width="1.4" stroke-linejoin="miter"/>
<circle cx="146.30" cy="138.60" r="2.1" fill="#26262e"/>
<rect x="151.70" y="135.95" width="4.1" height="4.1" fill="#5cc828" stroke="#223022" stroke-width="0.7"/>
<rect x="150.35" y="139.55" width="4.1" height="4.1" fill="#5cc828" stroke="#223022" stroke-width="0.7"/>
<rect x="155.95" y="136.55" width="4.1" height="4.1" fill="#3c5ce0" stroke="#223022" stroke-width="0.7"/>
<polygon points="165.28,139.92 159.98,141.19 160.38,137.52" fill="#a4acb0" stroke="#1a1a22" stroke-width="1.4" stroke-linejoin="miter"/>
<rect x="94.85" y="146.95" width="4.1" height="4.1" fill="#5cc828" stroke="#223022" stroke-width="0.7"/>
<polygon points="73.50,147.27 78.72,145.65 78.55,149.35" fill="#a4acb0" stroke="#1a1a22" stroke-width="1.4" stroke-linejoin="miter"/>
<polygon points="208.56,181.68 212.33,184.16 209.88,186.00" fill="#a4acb0" stroke="#1a1a22" stroke-width="1.4" stroke-linejoin="miter"/>
<polygon points="219.4,191.6 217.4,195.4 221.6,195.2" fill="#f8c070" stroke="#a05010" stroke-width="0.6"/>
</g>
<g id="bar">
<line x1="336.0" y1="10.0" x2="336.0" y2="130.5" stroke="#000" stroke-width="1.8"/>
<line x1="335.1" y1="129.5" x2="519" y2="129.5" stroke="#000" stroke-width="2.0"/>
<line x1="333.0" y1="129.5" x2="336.0" y2="129.5" stroke="#000" stroke-width="1.2"/>
<text x="332.4" y="132.4" text-anchor="end" font-size="8.2" font-weight="bold" font-family="Liberation Sans, Arial, sans-serif">0</text>
<line x1="333.0" y1="99.75" x2="336.0" y2="99.75" stroke="#000" stroke-width="1.2"/>
<text x="332.4" y="102.65" text-anchor="end" font-size="8.2" font-weight="bold" font-family="Liberation Sans, Arial, sans-serif">10</text>
<line x1="333.0" y1="70.0" x2="336.0" y2="70.0" stroke="#000" stroke-width="1.2"/>
<text x="332.4" y="72.9" text-anchor="end" font-size="8.2" font-weight="bold" font-family="Liberation Sans, Arial, sans-serif">20</text>
<line x1="333.0" y1="40.25" x2="336.0" y2="40.25" stroke="#000" stroke-width="1.2"/>
<text x="332.4" y="43.15" text-anchor="end" font-size="8.2" font-weight="bold" font-family="Liberation Sans, Arial, sans-serif">30</text>
<line x1="333.0" y1="10.5" x2="336.0" y2="10.5" stroke="#000" stroke-width="1.2"/>
<text x="332.4" y="13.4" text-anchor="end" font-size="8.2" font-weight="bold" font-family="Liberation Sans, Arial, sans-serif">40</text>
<rect x="337.60" y="126.53" width="5.5" height="2.98" fill="#fa1014" stroke="#000" stroke-width="1.2"/>
<line x1="340.35" y1="129.5" x2="340.35" y2="133.1" stroke="#000" stroke-width="1.3"/>
<text transform="translate(341.95,139.5) rotate(-45)" text-anchor="end" font-size="6.3" font-weight="bold" font-family="Liberation Sans, Arial, sans-serif">blood coagulation</text>
<rect x="346.27" y="126.53" width="5.5" height="2.98" fill="#62e81c" stroke="#000" stroke-width="1.2"/>
<line x1="349.02" y1="129.5" x2="349.02" y2="133.1" stroke="#000" stroke-width="1.3"/>
<text transform="translate(350.62,139.5) rotate(-45)" text-anchor="end" font-size="6.3" font-weight="bold" font-family="Liberation Sans, Arial, sans-serif">growth factor activity</text>
<rect x="354.93" y="126.53" width="5.5" height="2.98" fill="#fa1014" stroke="#000" stroke-width="1.2"/>
<line x1="357.68" y1="129.5" x2="357.68" y2="133.1" stroke="#000" stroke-width="1.3"/>
<text transform="translate(359.28,139.5) rotate(-45)" text-anchor="end" font-size="6.3" font-weight="bold" font-family="Liberation Sans, Arial, sans-serif">morphogenesis</text>
<rect x="363.60" y="126.53" width="5.5" height="2.98" fill="#62e81c" stroke="#000" stroke-width="1.2"/>
<line x1="366.35" y1="129.5" x2="366.35" y2="133.1" stroke="#000" stroke-width="1.3"/>
<text transform="translate(367.95,139.5) rotate(-45)" text-anchor="end" font-size="6.3" font-weight="bold" font-family="Liberation Sans, Arial, sans-serif">nucleic acid metabolism</text>
<rect x="372.26" y="126.53" width="5.5" height="2.98" fill="#fa1014" stroke="#000" stroke-width="1.2"/>
<line x1="375.01" y1="129.5" x2="375.01" y2="133.1" stroke="#000" stroke-width="1.3"/>
<text transform="translate(376.61,139.5) rotate(-45)" text-anchor="end" font-size="6.3" font-weight="bold" font-family="Liberation Sans, Arial, sans-serif">protein binding</text>
<rect x="380.93" y="123.55" width="5.5" height="5.95" fill="#62e81c" stroke="#000" stroke-width="1.2"/>
<line x1="383.68" y1="129.5" x2="383.68" y2="133.1" stroke="#000" stroke-width="1.3"/>
<text transform="translate(385.28,139.5) rotate(-45)" text-anchor="end" font-size="6.3" font-weight="bold" font-family="Liberation Sans, Arial, sans-serif">proteasome complex</text>
<rect x="389.59" y="123.55" width="5.5" height="5.95" fill="#fa1014" stroke="#000" stroke-width="1.2"/>
<line x1="392.34" y1="129.5" x2="392.34" y2="133.1" stroke="#000" stroke-width="1.3"/>
<text transform="translate(393.94,139.5) rotate(-45)" text-anchor="end" font-size="6.3" font-weight="bold" font-family="Liberation Sans, Arial, sans-serif">response to heat</text>
<rect x="398.25" y="120.58" width="5.5" height="8.93" fill="#fa1014" stroke="#000" stroke-width="1.2"/>
<line x1="401.00" y1="129.5" x2="401.00" y2="133.1" stroke="#000" stroke-width="1.3"/>
<text transform="translate(402.61,139.5) rotate(-45)" text-anchor="end" font-size="6.3" font-weight="bold" font-family="Liberation Sans, Arial, sans-serif">cell adhesion</text>
<rect x="406.92" y="123.55" width="5.5" height="5.95" fill="#fa1014" stroke="#000" stroke-width="1.2"/>
<rect x="406.92" y="120.58" width="5.5" height="2.98" fill="#62e81c" stroke="#000" stroke-width="1.2"/>
<line x1="409.67" y1="129.5" x2="409.67" y2="133.1" stroke="#000" stroke-width="1.3"/>
<text transform="translate(411.27,139.5) rotate(-45)" text-anchor="end" font-size="6.3" font-weight="bold" font-family="Liberation Sans, Arial, sans-serif">DNA repair</text>
<rect x="415.59" y="123.55" width="5.5" height="5.95" fill="#fa1014" stroke="#000" stroke-width="1.2"/>
<rect x="415.59" y="114.62" width="5.5" height="8.93" fill="#62e81c" stroke="#000" stroke-width="1.2"/>
<line x1="418.34" y1="129.5" x2="418.34" y2="133.1" stroke="#000" stroke-width="1.3"/>
<text transform="translate(419.94,139.5) rotate(-45)" text-anchor="end" font-size="6.3" font-weight="bold" font-family="Liberation Sans, Arial, sans-serif">chromosome organization and biogenesis</text>
<rect x="424.25" y="123.55" width="5.5" height="5.95" fill="#fa1014" stroke="#000" stroke-width="1.2"/>
<rect x="424.25" y="114.62" width="5.5" height="8.93" fill="#62e81c" stroke="#000" stroke-width="1.2"/>
<line x1="427.00" y1="129.5" x2="427.00" y2="133.1" stroke="#000" stroke-width="1.3"/>
<text transform="translate(428.60,139.5) rotate(-45)" text-anchor="end" font-size="6.3" font-weight="bold" font-family="Liberation Sans, Arial, sans-serif">organelle organization and biogenesis</text>
<rect x="432.92" y="117.60" width="5.5" height="11.90" fill="#fa1014" stroke="#000" stroke-width="1.2"/>
<rect x="432.92" y="114.62" width="5.5" height="2.98" fill="#62e81c" stroke="#000" stroke-width="1.2"/>
<line x1="435.67" y1="129.5" x2="435.67" y2="133.1" stroke="#000" stroke-width="1.3"/>
<text transform="translate(437.27,139.5) rotate(-45)" text-anchor="end" font-size="6.3" font-weight="bold" font-family="Liberation Sans, Arial, sans-serif">transport</text>
<rect x="441.58" y="114.62" width="5.5" height="14.88" fill="#fa1014" stroke="#000" stroke-width="1.2"/>
<rect x="441.58" y="111.65" width="5.5" height="2.98" fill="#62e81c" stroke="#000" stroke-width="1.2"/>
<line x1="444.33" y1="129.5" x2="444.33" y2="133.1" stroke="#000" stroke-width="1.3"/>
<text transform="translate(445.93,139.5) rotate(-45)" text-anchor="end" font-size="6.3" font-weight="bold" font-family="Liberation Sans, Arial, sans-serif">immune response</text>
<rect x="450.25" y="108.67" width="5.5" height="20.82" fill="#fa1014" stroke="#000" stroke-width="1.2"/>
<rect x="450.25" y="105.70" width="5.5" height="2.98" fill="#62e81c" stroke="#000" stroke-width="1.2"/>
<line x1="453.00" y1="129.5" x2="453.00" y2="133.1" stroke="#000" stroke-width="1.3"/>
<text transform="translate(454.60,139.5) rotate(-45)" text-anchor="end" font-size="6.3" font-weight="bold" font-family="Liberation Sans, Arial, sans-serif">apoptosis</text>
<rect x="458.91" y="105.70" width="5.5" height="23.80" fill="#fa1014" stroke="#000" stroke-width="1.2"/>
<line x1="461.66" y1="129.5" x2="461.66" y2="133.1" stroke="#000" stroke-width="1.3"/>
<text transform="translate(463.26,139.5) rotate(-45)" text-anchor="end" font-size="6.3" font-weight="bold" font-family="Liberation Sans, Arial, sans-serif">cell differentiation</text>
<rect x="467.58" y="111.65" width="5.5" height="17.85" fill="#fa1014" stroke="#000" stroke-width="1.2"/>
<rect x="467.58" y="105.70" width="5.5" height="5.95" fill="#62e81c" stroke="#000" stroke-width="1.2"/>
<line x1="470.33" y1="129.5" x2="470.33" y2="133.1" stroke="#000" stroke-width="1.3"/>
<text transform="translate(471.93,139.5) rotate(-45)" text-anchor="end" font-size="6.3" font-weight="bold" font-family="Liberation Sans, Arial, sans-serif">cell proliferation</text>
<rect x="476.24" y="111.65" width="5.5" height="17.85" fill="#fa1014" stroke="#000" stroke-width="1.2"/>
<rect x="476.24" y="96.78" width="5.5" height="14.88" fill="#62e81c" stroke="#000" stroke-width="1.2"/>
<line x1="478.99" y1="129.5" x2="478.99" y2="133.1" stroke="#000" stroke-width="1.3"/>
<text transform="translate(480.59,139.5) rotate(-45)" text-anchor="end" font-size="6.3" font-weight="bold" font-family="Liberation Sans, Arial, sans-serif">cell cycle</text>
<rect x="484.90" y="102.72" width="5.5" height="26.78" fill="#fa1014" stroke="#000" stroke-width="1.2"/>
<rect x="484.90" y="96.78" width="5.5" height="5.95" fill="#62e81c" stroke="#000" stroke-width="1.2"/>
<line x1="487.65" y1="129.5" x2="487.65" y2="133.1" stroke="#000" stroke-width="1.3"/>
<text transform="translate(489.25,139.5) rotate(-45)" text-anchor="end" font-size="6.3" font-weight="bold" font-family="Liberation Sans, Arial, sans-serif">cell communication</text>
<rect x="493.57" y="117.60" width="5.5" height="11.90" fill="#fa1014" stroke="#000" stroke-width="1.2"/>
<rect x="493.57" y="87.85" width="5.5" height="29.75" fill="#62e81c" stroke="#000" stroke-width="1.2"/>
<line x1="496.32" y1="129.5" x2="496.32" y2="133.1" stroke="#000" stroke-width="1.3"/>
<text transform="translate(497.92,139.5) rotate(-45)" text-anchor="end" font-size="6.3" font-weight="bold" font-family="Liberation Sans, Arial, sans-serif">metabolism</text>
<rect x="502.24" y="102.72" width="5.5" height="26.78" fill="#fa1014" stroke="#000" stroke-width="1.2"/>
<rect x="502.24" y="75.95" width="5.5" height="26.78" fill="#62e81c" stroke="#000" stroke-width="1.2"/>
<line x1="504.99" y1="129.5" x2="504.99" y2="133.1" stroke="#000" stroke-width="1.3"/>
<text transform="translate(506.59,139.5) rotate(-45)" text-anchor="end" font-size="6.3" font-weight="bold" font-family="Liberation Sans, Arial, sans-serif">transcription</text>
<rect x="510.90" y="43.22" width="5.5" height="86.28" fill="#fa1014" stroke="#000" stroke-width="1.2"/>
<rect x="510.90" y="25.38" width="5.5" height="17.85" fill="#62e81c" stroke="#000" stroke-width="1.2"/>
<line x1="513.65" y1="129.5" x2="513.65" y2="133.1" stroke="#000" stroke-width="1.3"/>
<text transform="translate(515.25,139.5) rotate(-45)" text-anchor="end" font-size="6.3" font-weight="bold" font-family="Liberation Sans, Arial, sans-serif">none</text>
<text transform="translate(316.3,69.6) rotate(-90)" text-anchor="middle" font-size="9.6" font-weight="bold" font-family="Liberation Sans, Arial, sans-serif">Annotated genes</text>
</g>
<g id="sc">
<text x="83.9" y="237.6" text-anchor="middle" font-size="7.2" font-weight="bold" font-family="Liberation Sans, Arial, sans-serif">Fos</text>
<line x1="33.65" y1="244.50000000000003" x2="33.65" y2="313.95000000000005" stroke="#000" stroke-width="1.7"/>
<line x1="32.8" y1="313.1" x2="140.9" y2="313.1" stroke="#000" stroke-width="1.7"/>
<line x1="30.65" y1="245.10000000000002" x2="33.65" y2="245.10000000000002" stroke="#000" stroke-width="1.0"/>
<text x="30.15" y="247.8" text-anchor="end" font-size="6.1" font-weight="bold" font-family="Liberation Sans, Arial, sans-serif">100 000</text>
<line x1="30.65" y1="262.1" x2="33.65" y2="262.1" stroke="#000" stroke-width="1.0"/>
<text x="30.15" y="264.8" text-anchor="end" font-size="6.1" font-weight="bold" font-family="Liberation Sans, Arial, sans-serif">75 000</text>
<line x1="30.65" y1="279.1" x2="33.65" y2="279.1" stroke="#000" stroke-width="1.0"/>
<text x="30.15" y="281.8" text-anchor="end" font-size="6.1" font-weight="bold" font-family="Liberation Sans, Arial, sans-serif">50 000</text>
<line x1="30.65" y1="296.1" x2="33.65" y2="296.1" stroke="#000" stroke-width="1.0"/>
<text x="30.15" y="298.8" text-anchor="end" font-size="6.1" font-weight="bold" font-family="Liberation Sans, Arial, sans-serif">25 000</text>
<line x1="30.65" y1="313.1" x2="33.65" y2="313.1" stroke="#000" stroke-width="1.0"/>
<text x="28.15" y="316.1" text-anchor="end" font-size="6.1" font-weight="bold" font-family="Liberation Sans, Arial, sans-serif">0</text>
<line x1="39.3" y1="313.1" x2="39.3" y2="315.3" stroke="#000" stroke-width="0.9"/>
<text x="38.9" y="321.1" text-anchor="middle" font-size="6.3" font-weight="bold" font-family="Liberation Sans, Arial, sans-serif">D0</text>
<line x1="51.1" y1="313.1" x2="51.1" y2="315.3" stroke="#000" stroke-width="0.9"/>
<text x="50.7" y="321.1" text-anchor="middle" font-size="6.3" font-weight="bold" font-family="Liberation Sans, Arial, sans-serif">D1</text>
<line x1="63.1" y1="313.1" x2="63.1" y2="315.3" stroke="#000" stroke-width="0.9"/>
<text x="62.7" y="321.1" text-anchor="middle" font-size="6.3" font-weight="bold" font-family="Liberation Sans, Arial, sans-serif">D2</text>
<line x1="75.0" y1="313.1" x2="75.0" y2="315.3" stroke="#000" stroke-width="0.9"/>
<text x="74.6" y="321.1" text-anchor="middle" font-size="6.3" font-weight="bold" font-family="Liberation Sans, Arial, sans-serif">D3</text>
<line x1="86.9" y1="313.1" x2="86.9" y2="315.3" stroke="#000" stroke-width="0.9"/>
<text x="86.5" y="321.1" text-anchor="middle" font-size="6.3" font-weight="bold" font-family="Liberation Sans, Arial, sans-serif">D4</text>
<line x1="98.80000000000001" y1="313.1" x2="98.80000000000001" y2="315.3" stroke="#000" stroke-width="0.9"/>
<text x="98.4" y="321.1" text-anchor="middle" font-size="6.3" font-weight="bold" font-family="Liberation Sans, Arial, sans-serif">D5</text>
<line x1="110.7" y1="313.1" x2="110.7" y2="315.3" stroke="#000" stroke-width="0.9"/>
<text x="110.3" y="321.1" text-anchor="middle" font-size="6.3" font-weight="bold" font-family="Liberation Sans, Arial, sans-serif">D6</text>
<line x1="122.5" y1="313.1" x2="122.5" y2="315.3" stroke="#000" stroke-width="0.9"/>
<text x="122.1" y="321.1" text-anchor="middle" font-size="6.3" font-weight="bold" font-family="Liberation Sans, Arial, sans-serif">D7</text>
<line x1="135.6" y1="313.1" x2="135.6" y2="315.3" stroke="#000" stroke-width="0.9"/>
<text x="135.2" y="321.1" text-anchor="middle" font-size="6.3" font-weight="bold" font-family="Liberation Sans, Arial, sans-serif">APL</text>
<text transform="translate(6.4,278.5) rotate(-90)" text-anchor="middle" font-size="6.1" font-weight="bold" stroke="none" style="stroke:none" font-family="Liberation Sans, Arial, sans-serif">Raw signal intensity</text>
<rect x="37.80" y="288.00" width="3.0" height="3.0" fill="#fff" fill-opacity="0.5" stroke="#e8141c" stroke-width="1.1"/>
<polygon points="39.30,289.90 37.00,294.04 41.60,294.04" fill="#1c28d8"/>
<polygon points="51.30,309.90 49.00,314.04 53.60,314.04" fill="#1c28d8"/>
<rect x="61.60" y="310.50" width="3.0" height="3.0" fill="#fff" fill-opacity="0.5" stroke="#e8141c" stroke-width="1.1"/>
<polygon points="63.10,309.90 60.80,314.04 65.40,314.04" fill="#1c28d8"/>
<rect x="73.50" y="309.70" width="3.0" height="3.0" fill="#fff" fill-opacity="0.5" stroke="#e8141c" stroke-width="1.1"/>
<polygon points="75.00,309.70 72.70,313.84 77.30,313.84" fill="#1c28d8"/>
<rect x="85.50" y="309.10" width="3.0" height="3.0" fill="#fff" fill-opacity="0.5" stroke="#e8141c" stroke-width="1.1"/>
<polygon points="87.00,309.30 84.70,313.44 89.30,313.44" fill="#1c28d8"/>
<rect x="97.30" y="306.30" width="3.0" height="3.0" fill="#fff" fill-opacity="0.5" stroke="#e8141c" stroke-width="1.1"/>
<polygon points="98.80,308.70 96.50,312.84 101.10,312.84" fill="#1c28d8"/>
<rect x="109.40" y="304.80" width="3.0" height="3.0" fill="#fff" fill-opacity="0.5" stroke="#e8141c" stroke-width="1.1"/>
<polygon points="110.90,307.70 108.60,311.84 113.20,311.84" fill="#1c28d8"/>
<rect x="121.30" y="303.00" width="3.0" height="3.0" fill="#fff" fill-opacity="0.5" stroke="#e8141c" stroke-width="1.1"/>
<polygon points="122.80,306.60 120.50,310.74 125.10,310.74" fill="#1c28d8"/>
<rect x="132.8" y="248.20000000000002" width="3.2" height="4.2" rx="0.9" fill="#58e030"/>
<rect x="132.8" y="261.59999999999997" width="3.2" height="4.2" rx="0.9" fill="#58e030"/>
<rect x="132.8" y="270.2" width="3.2" height="4.2" rx="0.9" fill="#58e030"/>
<text x="88" y="335.85" text-anchor="middle" font-size="7.2" font-weight="bold" font-family="Liberation Sans, Arial, sans-serif">Tnf</text>
<line x1="32.2" y1="339.9" x2="32.2" y2="412.45000000000005" stroke="#000" stroke-width="1.7"/>
<line x1="31.35" y1="411.6" x2="135.3" y2="411.6" stroke="#000" stroke-width="1.7"/>
<line x1="29.200000000000003" y1="340.5" x2="32.2" y2="340.5" stroke="#000" stroke-width="1.0"/>
<text x="27.200000000000003" y="343.2" text-anchor="end" font-size="6.1" font-weight="bold" font-family="Liberation Sans, Arial, sans-serif">12 000</text>
<line x1="29.200000000000003" y1="364.20000000000005" x2="32.2" y2="364.20000000000005" stroke="#000" stroke-width="1.0"/>
<text x="27.200000000000003" y="366.90000000000003" text-anchor="end" font-size="6.1" font-weight="bold" font-family="Liberation Sans, Arial, sans-serif">8000</text>
<line x1="29.200000000000003" y1="387.90000000000003" x2="32.2" y2="387.90000000000003" stroke="#000" stroke-width="1.0"/>
<text x="27.200000000000003" y="390.6" text-anchor="end" font-size="6.1" font-weight="bold" font-family="Liberation Sans, Arial, sans-serif">4000</text>
<line x1="29.200000000000003" y1="411.6" x2="32.2" y2="411.6" stroke="#000" stroke-width="1.0"/>
<text x="26.700000000000003" y="414.6" text-anchor="end" font-size="6.1" font-weight="bold" font-family="Liberation Sans, Arial, sans-serif">0</text>
<line x1="38.0" y1="411.6" x2="38.0" y2="413.8" stroke="#000" stroke-width="0.9"/>
<text x="37.6" y="420.3" text-anchor="middle" font-size="6.3" font-weight="bold" font-family="Liberation Sans, Arial, sans-serif">D0</text>
<line x1="49.3" y1="411.6" x2="49.3" y2="413.8" stroke="#000" stroke-width="0.9"/>
<text x="48.9" y="420.3" text-anchor="middle" font-size="6.3" font-weight="bold" font-family="Liberation Sans, Arial, sans-serif">D1</text>
<line x1="61.0" y1="411.6" x2="61.0" y2="413.8" stroke="#000" stroke-width="0.9"/>
<text x="60.6" y="420.3" text-anchor="middle" font-size="6.3" font-weight="bold" font-family="Liberation Sans, Arial, sans-serif">D2</text>
<line x1="72.60000000000001" y1="411.6" x2="72.60000000000001" y2="413.8" stroke="#000" stroke-width="0.9"/>
<text x="72.2" y="420.3" text-anchor="middle" font-size="6.3" font-weight="bold" font-family="Liberation Sans, Arial, sans-serif">D3</text>
<line x1="84.2" y1="411.6" x2="84.2" y2="413.8" stroke="#000" stroke-width="0.9"/>
<text x="83.8" y="420.3" text-anchor="middle" font-size="6.3" font-weight="bold" font-family="Liberation Sans, Arial, sans-serif">D4</text>
<line x1="95.60000000000001" y1="411.6" x2="95.60000000000001" y2="413.8" stroke="#000" stroke-width="0.9"/>
<text x="95.2" y="420.3" text-anchor="middle" font-size="6.3" font-weight="bold" font-family="Liberation Sans, Arial, sans-serif">D5</text>
<line x1="107.10000000000001" y1="411.6" x2="107.10000000000001" y2="413.8" stroke="#000" stroke-width="0.9"/>
<text x="106.7" y="420.3" text-anchor="middle" font-size="6.3" font-weight="bold" font-family="Liberation Sans, Arial, sans-serif">D6</text>
<line x1="118.60000000000001" y1="411.6" x2="118.60000000000001" y2="413.8" stroke="#000" stroke-width="0.9"/>
<text x="118.2" y="420.3" text-anchor="middle" font-size="6.3" font-weight="bold" font-family="Liberation Sans, Arial, sans-serif">D7</text>
<line x1="130.20000000000002" y1="411.6" x2="130.20000000000002" y2="413.8" stroke="#000" stroke-width="0.9"/>
<text x="129.8" y="420.3" text-anchor="middle" font-size="6.3" font-weight="bold" font-family="Liberation Sans, Arial, sans-serif">APL</text>
<text transform="translate(6.4,368.5) rotate(-90)" text-anchor="middle" font-size="6.1" font-weight="bold" stroke="none" style="stroke:none" font-family="Liberation Sans, Arial, sans-serif">Raw signal intensity</text>
<rect x="36.50" y="407.40" width="2.8" height="2.8" fill="#fff" fill-opacity="0.5" stroke="#e8141c" stroke-width="1.1"/>
<polygon points="37.90,404.60 35.50,408.92 40.30,408.92" fill="#1c28d8"/>
<polygon points="49.50,405.80 47.10,410.12 51.90,410.12" fill="#1c28d8"/>
<rect x="59.80" y="409.00" width="2.8" height="2.8" fill="#fff" fill-opacity="0.5" stroke="#e8141c" stroke-width="1.1"/>
<polygon points="61.20,408.20 58.80,412.52 63.60,412.52" fill="#1c28d8"/>
<rect x="71.40" y="409.60" width="2.8" height="2.8" fill="#fff" fill-opacity="0.5" stroke="#e8141c" stroke-width="1.1"/>
<polygon points="72.80,408.60 70.40,412.92 75.20,412.92" fill="#1c28d8"/>
<rect x="83.00" y="408.35" width="2.8" height="2.8" fill="#fff" fill-opacity="0.5" stroke="#e8141c" stroke-width="1.1"/>
<polygon points="84.40,404.20 82.00,408.52 86.80,408.52" fill="#1c28d8"/>
<rect x="94.30" y="406.10" width="2.8" height="2.8" fill="#fff" fill-opacity="0.5" stroke="#e8141c" stroke-width="1.1"/>
<polygon points="95.70,402.00 93.30,406.32 98.10,406.32" fill="#1c28d8"/>
<rect x="105.80" y="406.60" width="2.8" height="2.8" fill="#fff" fill-opacity="0.5" stroke="#e8141c" stroke-width="1.1"/>
<polygon points="107.20,403.70 104.80,408.02 109.60,408.02" fill="#1c28d8"/>
<rect x="117.30" y="400.85" width="2.8" height="2.8" fill="#fff" fill-opacity="0.5" stroke="#e8141c" stroke-width="1.1"/>
<polygon points="118.70,403.00 116.30,407.32 121.10,407.32" fill="#1c28d8"/>
<circle cx="129.70" cy="347.25" r="1.5" fill="none" stroke="#58e030" stroke-width="0.8"/>
<circle cx="129.70" cy="353.00" r="1.5" fill="none" stroke="#58e030" stroke-width="0.8"/>
<circle cx="129.70" cy="362.50" r="1.5" fill="none" stroke="#58e030" stroke-width="0.8"/>
<circle cx="129.70" cy="375.00" r="1.5" fill="none" stroke="#58e030" stroke-width="0.8"/>
<circle cx="129.70" cy="380.50" r="1.5" fill="none" stroke="#58e030" stroke-width="0.8"/>
<circle cx="129.70" cy="382.00" r="1.5" fill="none" stroke="#58e030" stroke-width="0.8"/>
<rect x="140" y="411.8" width="1" height="1" fill="#333"/><rect x="140" y="418" width="1" height="1" fill="#333"/>
<text x="215.75" y="238.1" text-anchor="middle" font-size="7.2" font-weight="bold" font-family="Liberation Sans, Arial, sans-serif">Egr1</text>
<line x1="166.05" y1="244.62000000000003" x2="166.05" y2="312.15000000000003" stroke="#000" stroke-width="1.7"/>
<line x1="165.20000000000002" y1="311.3" x2="273.2" y2="311.3" stroke="#000" stroke-width="1.7"/>
<line x1="163.05" y1="245.22000000000003" x2="166.05" y2="245.22000000000003" stroke="#000" stroke-width="1.0"/>
<text x="163.25" y="247.92000000000002" text-anchor="end" font-size="6.1" font-weight="bold" font-family="Liberation Sans, Arial, sans-serif">100 000</text>
<line x1="163.05" y1="261.74" x2="166.05" y2="261.74" stroke="#000" stroke-width="1.0"/>
<text x="163.25" y="264.44" text-anchor="end" font-size="6.1" font-weight="bold" font-family="Liberation Sans, Arial, sans-serif">75 000</text>
<line x1="163.05" y1="278.26" x2="166.05" y2="278.26" stroke="#000" stroke-width="1.0"/>
<text x="163.25" y="280.96" text-anchor="end" font-size="6.1" font-weight="bold" font-family="Liberation Sans, Arial, sans-serif">50 000</text>
<line x1="163.05" y1="294.78000000000003" x2="166.05" y2="294.78000000000003" stroke="#000" stroke-width="1.0"/>
<text x="163.25" y="297.48" text-anchor="end" font-size="6.1" font-weight="bold" font-family="Liberation Sans, Arial, sans-serif">25 000</text>
<line x1="163.05" y1="311.3" x2="166.05" y2="311.3" stroke="#000" stroke-width="1.0"/>
<text x="160.55" y="314.3" text-anchor="end" font-size="6.1" font-weight="bold" font-family="Liberation Sans, Arial, sans-serif">0</text>
<line x1="171.8" y1="311.3" x2="171.8" y2="313.5" stroke="#000" stroke-width="0.9"/>
<text x="171.3" y="319.8" text-anchor="middle" font-size="6.3" font-weight="bold" font-family="Liberation Sans, Arial, sans-serif">D0</text>
<line x1="183.6" y1="311.3" x2="183.6" y2="313.5" stroke="#000" stroke-width="0.9"/>
<text x="183.1" y="319.8" text-anchor="middle" font-size="6.3" font-weight="bold" font-family="Liberation Sans, Arial, sans-serif">D1</text>
<line x1="195.4" y1="311.3" x2="195.4" y2="313.5" stroke="#000" stroke-width="0.9"/>
<text x="194.9" y="319.8" text-anchor="middle" font-size="6.3" font-weight="bold" font-family="Liberation Sans, Arial, sans-serif">D2</text>
<line x1="207.2" y1="311.3" x2="207.2" y2="313.5" stroke="#000" stroke-width="0.9"/>
<text x="206.7" y="319.8" text-anchor="middle" font-size="6.3" font-weight="bold" font-family="Liberation Sans, Arial, sans-serif">D3</text>
<line x1="219.1" y1="311.3" x2="219.1" y2="313.5" stroke="#000" stroke-width="0.9"/>
<text x="218.6" y="319.8" text-anchor="middle" font-size="6.3" font-weight="bold" font-family="Liberation Sans, Arial, sans-serif">D4</text>
<line x1="230.9" y1="311.3" x2="230.9" y2="313.5" stroke="#000" stroke-width="0.9"/>
<text x="230.4" y="319.8" text-anchor="middle" font-size="6.3" font-weight="bold" font-family="Liberation Sans, Arial, sans-serif">D5</text>
<line x1="242.8" y1="311.3" x2="242.8" y2="313.5" stroke="#000" stroke-width="0.9"/>
<text x="242.3" y="319.8" text-anchor="middle" font-size="6.3" font-weight="bold" font-family="Liberation Sans, Arial, sans-serif">D6</text>
<line x1="254.7" y1="311.3" x2="254.7" y2="313.5" stroke="#000" stroke-width="0.9"/>
<text x="254.2" y="319.8" text-anchor="middle" font-size="6.3" font-weight="bold" font-family="Liberation Sans, Arial, sans-serif">D7</text>
<line x1="267.8" y1="311.3" x2="267.8" y2="313.5" stroke="#000" stroke-width="0.9"/>
<text x="267.3" y="319.8" text-anchor="middle" font-size="6.3" font-weight="bold" font-family="Liberation Sans, Arial, sans-serif">APL</text>
<circle cx="171.90" cy="286.10" r="1.5" fill="none" stroke="#e03040" stroke-width="0.8"/>
<polygon points="171.90,289.20 169.90,292.80 173.90,292.80" fill="none" stroke="#3038c8" stroke-width="0.7"/>
<circle cx="183.75" cy="311" r="1.3" fill="#3c1c58"/>
<circle cx="195.5" cy="311" r="1.3" fill="#3c1c58"/>
<circle cx="207.3" cy="311" r="1.3" fill="#3c1c58"/>
<circle cx="219.2" cy="311" r="1.3" fill="#3c1c58"/>
<circle cx="231" cy="311" r="1.3" fill="#3c1c58"/>
<circle cx="242.9" cy="311" r="1.3" fill="#3c1c58"/>
<circle cx="254.8" cy="311" r="1.3" fill="#3c1c58"/>
<circle cx="267.50" cy="264.50" r="1.5" fill="none" stroke="#58e030" stroke-width="0.8"/>
<circle cx="267.50" cy="274.25" r="1.5" fill="none" stroke="#58e030" stroke-width="0.8"/>
<circle cx="267.50" cy="287.50" r="1.5" fill="none" stroke="#58e030" stroke-width="0.8"/>
<circle cx="267.50" cy="293.25" r="1.5" fill="none" stroke="#58e030" stroke-width="0.8"/>
<circle cx="267.50" cy="296.75" r="1.5" fill="none" stroke="#58e030" stroke-width="0.8"/>
<circle cx="267.50" cy="299.25" r="1.5" fill="none" stroke="#58e030" stroke-width="0.8"/>
<text x="219.25" y="333.6" text-anchor="middle" font-size="7.2" font-weight="bold" font-family="Liberation Sans, Arial, sans-serif">Vcam1</text>
<line x1="167.0" y1="341.4" x2="167.0" y2="412.45000000000005" stroke="#000" stroke-width="1.7"/>
<line x1="166.15" y1="411.6" x2="272.7" y2="411.6" stroke="#000" stroke-width="1.7"/>
<line x1="164.0" y1="342.0" x2="167.0" y2="342.0" stroke="#000" stroke-width="1.0"/>
<text x="164.2" y="344.7" text-anchor="end" font-size="6.1" font-weight="bold" font-family="Liberation Sans, Arial, sans-serif">60 000</text>
<line x1="164.0" y1="365.20000000000005" x2="167.0" y2="365.20000000000005" stroke="#000" stroke-width="1.0"/>
<text x="164.2" y="367.90000000000003" text-anchor="end" font-size="6.1" font-weight="bold" font-family="Liberation Sans, Arial, sans-serif">40 000</text>
<line x1="164.0" y1="388.40000000000003" x2="167.0" y2="388.40000000000003" stroke="#000" stroke-width="1.0"/>
<text x="164.2" y="391.1" text-anchor="end" font-size="6.1" font-weight="bold" font-family="Liberation Sans, Arial, sans-serif">20 000</text>
<line x1="164.0" y1="411.6" x2="167.0" y2="411.6" stroke="#000" stroke-width="1.0"/>
<text x="161.5" y="414.6" text-anchor="end" font-size="6.1" font-weight="bold" font-family="Liberation Sans, Arial, sans-serif">0</text>
<line x1="172.39999999999998" y1="411.6" x2="172.39999999999998" y2="413.8" stroke="#000" stroke-width="0.9"/>
<text x="172.2" y="420.3" text-anchor="middle" font-size="6.3" font-weight="bold" font-family="Liberation Sans, Arial, sans-serif">D0</text>
<line x1="183.79999999999998" y1="411.6" x2="183.79999999999998" y2="413.8" stroke="#000" stroke-width="0.9"/>
<text x="183.6" y="420.3" text-anchor="middle" font-size="6.3" font-weight="bold" font-family="Liberation Sans, Arial, sans-serif">D1</text>
<line x1="195.39999999999998" y1="411.6" x2="195.39999999999998" y2="413.8" stroke="#000" stroke-width="0.9"/>
<text x="195.2" y="420.3" text-anchor="middle" font-size="6.3" font-weight="bold" font-family="Liberation Sans, Arial, sans-serif">D2</text>
<line x1="207.0" y1="411.6" x2="207.0" y2="413.8" stroke="#000" stroke-width="0.9"/>
<text x="206.8" y="420.3" text-anchor="middle" font-size="6.3" font-weight="bold" font-family="Liberation Sans, Arial, sans-serif">D3</text>
<line x1="218.7" y1="411.6" x2="218.7" y2="413.8" stroke="#000" stroke-width="0.9"/>
<text x="218.5" y="420.3" text-anchor="middle" font-size="6.3" font-weight="bold" font-family="Liberation Sans, Arial, sans-serif">D4</text>
<line x1="230.39999999999998" y1="411.6" x2="230.39999999999998" y2="413.8" stroke="#000" stroke-width="0.9"/>
<text x="230.2" y="420.3" text-anchor="middle" font-size="6.3" font-weight="bold" font-family="Liberation Sans, Arial, sans-serif">D5</text>
<line x1="242.0" y1="411.6" x2="242.0" y2="413.8" stroke="#000" stroke-width="0.9"/>
<text x="241.8" y="420.3" text-anchor="middle" font-size="6.3" font-weight="bold" font-family="Liberation Sans, Arial, sans-serif">D6</text>
<line x1="253.39999999999998" y1="411.6" x2="253.39999999999998" y2="413.8" stroke="#000" stroke-width="0.9"/>
<text x="253.2" y="420.3" text-anchor="middle" font-size="6.3" font-weight="bold" font-family="Liberation Sans, Arial, sans-serif">D7</text>
<line x1="265.2" y1="411.6" x2="265.2" y2="413.8" stroke="#000" stroke-width="0.9"/>
<text x="265" y="420.3" text-anchor="middle" font-size="6.3" font-weight="bold" font-family="Liberation Sans, Arial, sans-serif">APL</text>
<circle cx="172.4" cy="411.4" r="1.4" fill="#30184c"/>
<circle cx="183.9" cy="411.4" r="1.4" fill="#30184c"/>
<circle cx="195.5" cy="411.4" r="1.4" fill="#30184c"/>
<circle cx="207.1" cy="411.4" r="1.4" fill="#30184c"/>
<circle cx="218.8" cy="411.4" r="1.4" fill="#30184c"/>
<circle cx="230.5" cy="411.4" r="1.4" fill="#30184c"/>
<circle cx="242.1" cy="411.4" r="1.4" fill="#30184c"/>
<circle cx="253.5" cy="411.4" r="1.4" fill="#30184c"/>
<circle cx="265.00" cy="347.50" r="1.5" fill="none" stroke="#58e030" stroke-width="0.8"/>
<circle cx="265.00" cy="350.00" r="1.5" fill="none" stroke="#58e030" stroke-width="0.8"/>
<circle cx="265.00" cy="354.75" r="1.5" fill="none" stroke="#58e030" stroke-width="0.8"/>
<circle cx="265.00" cy="359.75" r="1.5" fill="none" stroke="#58e030" stroke-width="0.8"/>
<circle cx="265.00" cy="369.25" r="1.5" fill="none" stroke="#58e030" stroke-width="0.8"/>
<circle cx="265.00" cy="382.25" r="1.5" fill="none" stroke="#58e030" stroke-width="0.8"/>
<text x="347.5" y="237.6" text-anchor="middle" font-size="7.2" font-weight="bold" font-family="Liberation Sans, Arial, sans-serif">Jun</text>
<line x1="302.2" y1="243.05" x2="302.2" y2="313.1" stroke="#000" stroke-width="1.7"/>
<line x1="301.34999999999997" y1="312.25" x2="406.5" y2="312.25" stroke="#000" stroke-width="1.7"/>
<line x1="299.2" y1="243.65" x2="302.2" y2="243.65" stroke="#000" stroke-width="1.0"/>
<text x="300.5" y="246.35" text-anchor="end" font-size="6.1" font-weight="bold" font-family="Liberation Sans, Arial, sans-serif">40 000</text>
<line x1="299.2" y1="260.8" x2="302.2" y2="260.8" stroke="#000" stroke-width="1.0"/>
<text x="300.5" y="263.5" text-anchor="end" font-size="6.1" font-weight="bold" font-family="Liberation Sans, Arial, sans-serif">30 000</text>
<line x1="299.2" y1="277.95" x2="302.2" y2="277.95" stroke="#000" stroke-width="1.0"/>
<text x="300.5" y="280.65" text-anchor="end" font-size="6.1" font-weight="bold" font-family="Liberation Sans, Arial, sans-serif">20 000</text>
<line x1="299.2" y1="295.1" x2="302.2" y2="295.1" stroke="#000" stroke-width="1.0"/>
<text x="300.5" y="297.8" text-anchor="end" font-size="6.1" font-weight="bold" font-family="Liberation Sans, Arial, sans-serif">10 000</text>
<line x1="299.2" y1="312.25" x2="302.2" y2="312.25" stroke="#000" stroke-width="1.0"/>
<text x="296.7" y="315.25" text-anchor="end" font-size="6.1" font-weight="bold" font-family="Liberation Sans, Arial, sans-serif">0</text>
<line x1="307.40000000000003" y1="312.25" x2="307.40000000000003" y2="314.45" stroke="#000" stroke-width="0.9"/>
<text x="307.1" y="320.5" text-anchor="middle" font-size="6.3" font-weight="bold" font-family="Liberation Sans, Arial, sans-serif">D0</text>
<line x1="318.90000000000003" y1="312.25" x2="318.90000000000003" y2="314.45" stroke="#000" stroke-width="0.9"/>
<text x="318.6" y="320.5" text-anchor="middle" font-size="6.3" font-weight="bold" font-family="Liberation Sans, Arial, sans-serif">D1</text>
<line x1="330.3" y1="312.25" x2="330.3" y2="314.45" stroke="#000" stroke-width="0.9"/>
<text x="330" y="320.5" text-anchor="middle" font-size="6.3" font-weight="bold" font-family="Liberation Sans, Arial, sans-serif">D2</text>
<line x1="341.90000000000003" y1="312.25" x2="341.90000000000003" y2="314.45" stroke="#000" stroke-width="0.9"/>
<text x="341.6" y="320.5" text-anchor="middle" font-size="6.3" font-weight="bold" font-family="Liberation Sans, Arial, sans-serif">D3</text>
<line x1="353.5" y1="312.25" x2="353.5" y2="314.45" stroke="#000" stroke-width="0.9"/>
<text x="353.2" y="320.5" text-anchor="middle" font-size="6.3" font-weight="bold" font-family="Liberation Sans, Arial, sans-serif">D4</text>
<line x1="365.1" y1="312.25" x2="365.1" y2="314.45" stroke="#000" stroke-width="0.9"/>
<text x="364.8" y="320.5" text-anchor="middle" font-size="6.3" font-weight="bold" font-family="Liberation Sans, Arial, sans-serif">D5</text>
<line x1="376.7" y1="312.25" x2="376.7" y2="314.45" stroke="#000" stroke-width="0.9"/>
<text x="376.4" y="320.5" text-anchor="middle" font-size="6.3" font-weight="bold" font-family="Liberation Sans, Arial, sans-serif">D6</text>
<line x1="388.40000000000003" y1="312.25" x2="388.40000000000003" y2="314.45" stroke="#000" stroke-width="0.9"/>
<text x="388.1" y="320.5" text-anchor="middle" font-size="6.3" font-weight="bold" font-family="Liberation Sans, Arial, sans-serif">D7</text>
<line x1="401.2" y1="312.25" x2="401.2" y2="314.45" stroke="#000" stroke-width="0.9"/>
<text x="400.9" y="320.5" text-anchor="middle" font-size="6.3" font-weight="bold" font-family="Liberation Sans, Arial, sans-serif">APL</text>
<polygon points="307.40,308.80 305.60,312.04 309.20,312.04" fill="#3028c0"/>
<rect x="306.10" y="308.30" width="2.6" height="2.6" fill="#fff" fill-opacity="0.5" stroke="#b030a8" stroke-width="1.1"/>
<polygon points="318.90,309.50 317.10,312.74 320.70,312.74" fill="#3028c0"/>
<polygon points="330.30,309.90 328.50,313.14 332.10,313.14" fill="#3028c0"/>
<rect x="329.00" y="310.20" width="2.6" height="2.6" fill="#fff" fill-opacity="0.5" stroke="#b030a8" stroke-width="1.1"/>
<polygon points="341.90,309.90 340.10,313.14 343.70,313.14" fill="#3028c0"/>
<rect x="340.60" y="310.20" width="2.6" height="2.6" fill="#fff" fill-opacity="0.5" stroke="#b030a8" stroke-width="1.1"/>
<polygon points="353.50,309.70 351.70,312.94 355.30,312.94" fill="#3028c0"/>
<rect x="352.20" y="309.70" width="2.6" height="2.6" fill="#fff" fill-opacity="0.5" stroke="#b030a8" stroke-width="1.1"/>
<polygon points="365.10,309.50 363.30,312.74 366.90,312.74" fill="#3028c0"/>
<rect x="363.80" y="309.20" width="2.6" height="2.6" fill="#fff" fill-opacity="0.5" stroke="#b030a8" stroke-width="1.1"/>
<polygon points="376.70,309.00 374.90,312.24 378.50,312.24" fill="#3028c0"/>
<rect x="375.40" y="308.40" width="2.6" height="2.6" fill="#fff" fill-opacity="0.5" stroke="#b030a8" stroke-width="1.1"/>
<polygon points="388.30,308.40 386.50,311.64 390.10,311.64" fill="#3028c0"/>
<rect x="387.00" y="306.70" width="2.6" height="2.6" fill="#fff" fill-opacity="0.5" stroke="#b030a8" stroke-width="1.1"/>
<circle cx="400.80" cy="252.50" r="1.5" fill="none" stroke="#58e030" stroke-width="0.8"/>
<circle cx="400.80" cy="263.25" r="1.5" fill="none" stroke="#58e030" stroke-width="0.8"/>
<circle cx="400.80" cy="265.75" r="1.5" fill="none" stroke="#58e030" stroke-width="0.8"/>
<circle cx="400.80" cy="271.25" r="1.5" fill="none" stroke="#58e030" stroke-width="0.8"/>
<circle cx="400.80" cy="289.25" r="1.5" fill="none" stroke="#58e030" stroke-width="0.8"/>
<circle cx="400.80" cy="294.25" r="1.5" fill="none" stroke="#58e030" stroke-width="0.8"/>
<text x="350.5" y="332.35" text-anchor="middle" font-size="7.2" font-weight="bold" font-family="Liberation Sans, Arial, sans-serif">GAPDH</text>
<line x1="302.8" y1="339.9" x2="302.8" y2="413.6" stroke="#000" stroke-width="1.7"/>
<line x1="301.95" y1="412.75" x2="400.8" y2="412.75" stroke="#000" stroke-width="1.7"/>
<line x1="299.8" y1="340.5" x2="302.8" y2="340.5" stroke="#000" stroke-width="1.0"/>
<text x="299.6" y="343.2" text-anchor="end" font-size="6.1" font-weight="bold" font-family="Liberation Sans, Arial, sans-serif">125 000</text>
<line x1="299.8" y1="354.95" x2="302.8" y2="354.95" stroke="#000" stroke-width="1.0"/>
<text x="299.6" y="357.65" text-anchor="end" font-size="6.1" font-weight="bold" font-family="Liberation Sans, Arial, sans-serif">100 000</text>
<line x1="299.8" y1="369.4" x2="302.8" y2="369.4" stroke="#000" stroke-width="1.0"/>
<text x="299.6" y="372.09999999999997" text-anchor="end" font-size="6.1" font-weight="bold" font-family="Liberation Sans, Arial, sans-serif">75 000</text>
<line x1="299.8" y1="383.85" x2="302.8" y2="383.85" stroke="#000" stroke-width="1.0"/>
<text x="299.6" y="386.55" text-anchor="end" font-size="6.1" font-weight="bold" font-family="Liberation Sans, Arial, sans-serif">50 000</text>
<line x1="299.8" y1="398.3" x2="302.8" y2="398.3" stroke="#000" stroke-width="1.0"/>
<text x="299.6" y="401.0" text-anchor="end" font-size="6.1" font-weight="bold" font-family="Liberation Sans, Arial, sans-serif">25 000</text>
<line x1="299.8" y1="412.75" x2="302.8" y2="412.75" stroke="#000" stroke-width="1.0"/>
<text x="297.3" y="415.75" text-anchor="end" font-size="6.1" font-weight="bold" font-family="Liberation Sans, Arial, sans-serif">0</text>
<line x1="307.9" y1="412.75" x2="307.9" y2="414.95" stroke="#000" stroke-width="0.9"/>
<text x="306.9" y="421.40000000000003" text-anchor="middle" font-size="6.3" font-weight="bold" font-family="Liberation Sans, Arial, sans-serif">D0</text>
<line x1="319.3" y1="412.75" x2="319.3" y2="414.95" stroke="#000" stroke-width="0.9"/>
<text x="318.3" y="421.40000000000003" text-anchor="middle" font-size="6.3" font-weight="bold" font-family="Liberation Sans, Arial, sans-serif">D1</text>
<line x1="330.6" y1="412.75" x2="330.6" y2="414.95" stroke="#000" stroke-width="0.9"/>
<text x="329.6" y="421.40000000000003" text-anchor="middle" font-size="6.3" font-weight="bold" font-family="Liberation Sans, Arial, sans-serif">D2</text>
<line x1="341.6" y1="412.75" x2="341.6" y2="414.95" stroke="#000" stroke-width="0.9"/>
<text x="340.6" y="421.40000000000003" text-anchor="middle" font-size="6.3" font-weight="bold" font-family="Liberation Sans, Arial, sans-serif">D3</text>
<line x1="352.6" y1="412.75" x2="352.6" y2="414.95" stroke="#000" stroke-width="0.9"/>
<text x="351.6" y="421.40000000000003" text-anchor="middle" font-size="6.3" font-weight="bold" font-family="Liberation Sans, Arial, sans-serif">D4</text>
<line x1="363.8" y1="412.75" x2="363.8" y2="414.95" stroke="#000" stroke-width="0.9"/>
<text x="362.8" y="421.40000000000003" text-anchor="middle" font-size="6.3" font-weight="bold" font-family="Liberation Sans, Arial, sans-serif">D5</text>
<line x1="374.7" y1="412.75" x2="374.7" y2="414.95" stroke="#000" stroke-width="0.9"/>
<text x="373.7" y="421.40000000000003" text-anchor="middle" font-size="6.3" font-weight="bold" font-family="Liberation Sans, Arial, sans-serif">D6</text>
<line x1="385.9" y1="412.75" x2="385.9" y2="414.95" stroke="#000" stroke-width="0.9"/>
<text x="384.9" y="421.40000000000003" text-anchor="middle" font-size="6.3" font-weight="bold" font-family="Liberation Sans, Arial, sans-serif">D7</text>
<line x1="397.3" y1="412.75" x2="397.3" y2="414.95" stroke="#000" stroke-width="0.9"/>
<text x="396.3" y="421.40000000000003" text-anchor="middle" font-size="6.3" font-weight="bold" font-family="Liberation Sans, Arial, sans-serif">APL</text>
<rect x="306.60" y="361.50" width="3.0" height="3.0" fill="#fff" fill-opacity="0.5" stroke="#e8141c" stroke-width="1.1"/>
<polygon points="308.10,363.80 305.70,368.12 310.50,368.12" fill="#1c28d8"/>
<polygon points="319.20,372.60 316.80,376.92 321.60,376.92" fill="#1c28d8"/>
<rect x="328.80" y="340.75" width="3.0" height="3.0" fill="#fff" fill-opacity="0.5" stroke="#e8141c" stroke-width="1.1"/>
<polygon points="330.30,348.30 327.90,352.62 332.70,352.62" fill="#1c28d8"/>
<rect x="339.70" y="357.75" width="3.0" height="3.0" fill="#fff" fill-opacity="0.5" stroke="#e8141c" stroke-width="1.1"/>
<polygon points="341.20,370.80 338.80,375.12 343.60,375.12" fill="#1c28d8"/>
<rect x="350.70" y="355.25" width="3.0" height="3.0" fill="#fff" fill-opacity="0.5" stroke="#e8141c" stroke-width="1.1"/>
<polygon points="352.20,362.10 349.80,366.42 354.60,366.42" fill="#1c28d8"/>
<rect x="361.80" y="361.50" width="3.0" height="3.0" fill="#fff" fill-opacity="0.5" stroke="#e8141c" stroke-width="1.1"/>
<polygon points="363.30,352.60 360.90,356.92 365.70,356.92" fill="#1c28d8"/>
<rect x="372.70" y="351.50" width="3.0" height="3.0" fill="#fff" fill-opacity="0.5" stroke="#e8141c" stroke-width="1.1"/>
<polygon points="374.20,372.10 371.80,376.42 376.60,376.42" fill="#1c28d8"/>
<rect x="383.80" y="357.25" width="3.0" height="3.0" fill="#fff" fill-opacity="0.5" stroke="#e8141c" stroke-width="1.1"/>
<polygon points="385.30,356.60 382.90,360.92 387.70,360.92" fill="#1c28d8"/>
<circle cx="395.40" cy="355.50" r="1.5" fill="none" stroke="#58e030" stroke-width="1.1"/>
<circle cx="395.40" cy="360.50" r="1.5" fill="none" stroke="#58e030" stroke-width="1.1"/>
<circle cx="395.40" cy="364.25" r="1.5" fill="none" stroke="#58e030" stroke-width="1.1"/>
<circle cx="395.40" cy="367.25" r="1.5" fill="none" stroke="#58e030" stroke-width="1.1"/>
</g>
<text x="0.5" y="9.7" font-size="12" font-weight="bold" font-family="Liberation Sans, Arial, sans-serif">A</text>
<text x="308.8" y="9.7" font-size="11.4" font-weight="bold" font-family="Liberation Sans, Arial, sans-serif">B</text>
<text x="0.5" y="235.6" font-size="12" font-weight="bold" font-family="Liberation Sans, Arial, sans-serif">C</text>
</svg></body></html>
